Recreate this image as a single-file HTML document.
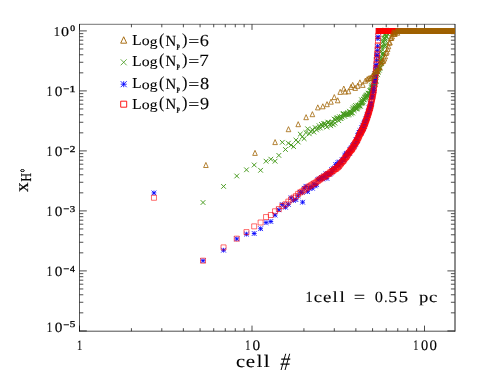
<!DOCTYPE html>
<html><head><meta charset="utf-8"><title>plot</title>
<style>html,body{margin:0;padding:0;background:#fff;}body{width:478px;height:382px;overflow:hidden;font-family:"Liberation Serif",serif;}</style>
</head><body>
<svg width="478" height="382" viewBox="0 0 478 382" style="display:block">
<rect width="478" height="382" fill="#fff"/>
<path d="M79.5 24.0V331.55" stroke="#000" stroke-width="0.65" fill="none"/>
<path d="M455.0 24.0V331.55" stroke="#000" stroke-width="0.9" fill="none"/>
<path d="M79.2 24.3H455.09999999999997" stroke="#000" stroke-width="0.55" fill="none"/>
<path d="M79.2 331.2H455.09999999999997" stroke="#000" stroke-width="0.7" fill="none"/>
<path d="M79.5 30.90h7.3M454.7 30.90h-7.3M79.5 90.90h7.3M454.7 90.90h-7.3M79.5 72.84h3.8M454.7 72.84h-3.8M79.5 62.27h3.8M454.7 62.27h-3.8M79.5 54.78h3.8M454.7 54.78h-3.8M79.5 48.96h3.8M454.7 48.96h-3.8M79.5 44.21h3.8M454.7 44.21h-3.8M79.5 40.19h3.8M454.7 40.19h-3.8M79.5 36.71h3.8M454.7 36.71h-3.8M79.5 33.65h3.8M454.7 33.65h-3.8M79.5 150.90h7.3M454.7 150.90h-7.3M79.5 132.84h3.8M454.7 132.84h-3.8M79.5 122.27h3.8M454.7 122.27h-3.8M79.5 114.78h3.8M454.7 114.78h-3.8M79.5 108.96h3.8M454.7 108.96h-3.8M79.5 104.21h3.8M454.7 104.21h-3.8M79.5 100.19h3.8M454.7 100.19h-3.8M79.5 96.71h3.8M454.7 96.71h-3.8M79.5 93.65h3.8M454.7 93.65h-3.8M79.5 210.90h7.3M454.7 210.90h-7.3M79.5 192.84h3.8M454.7 192.84h-3.8M79.5 182.27h3.8M454.7 182.27h-3.8M79.5 174.78h3.8M454.7 174.78h-3.8M79.5 168.96h3.8M454.7 168.96h-3.8M79.5 164.21h3.8M454.7 164.21h-3.8M79.5 160.19h3.8M454.7 160.19h-3.8M79.5 156.71h3.8M454.7 156.71h-3.8M79.5 153.65h3.8M454.7 153.65h-3.8M79.5 270.90h7.3M454.7 270.90h-7.3M79.5 252.84h3.8M454.7 252.84h-3.8M79.5 242.27h3.8M454.7 242.27h-3.8M79.5 234.78h3.8M454.7 234.78h-3.8M79.5 228.96h3.8M454.7 228.96h-3.8M79.5 224.21h3.8M454.7 224.21h-3.8M79.5 220.19h3.8M454.7 220.19h-3.8M79.5 216.71h3.8M454.7 216.71h-3.8M79.5 213.65h3.8M454.7 213.65h-3.8M79.5 330.90h7.3M454.7 330.90h-7.3M79.5 312.84h3.8M454.7 312.84h-3.8M79.5 302.27h3.8M454.7 302.27h-3.8M79.5 294.78h3.8M454.7 294.78h-3.8M79.5 288.96h3.8M454.7 288.96h-3.8M79.5 284.21h3.8M454.7 284.21h-3.8M79.5 280.19h3.8M454.7 280.19h-3.8M79.5 276.71h3.8M454.7 276.71h-3.8M79.5 273.65h3.8M454.7 273.65h-3.8M79.50 331.2v-5.6M79.50 24.3v5.6M131.43 331.2v-3.0M131.43 24.3v3.0M161.80 331.2v-3.0M161.80 24.3v3.0M183.36 331.2v-3.0M183.36 24.3v3.0M200.07 331.2v-3.0M200.07 24.3v3.0M213.73 331.2v-3.0M213.73 24.3v3.0M225.28 331.2v-3.0M225.28 24.3v3.0M235.28 331.2v-3.0M235.28 24.3v3.0M244.11 331.2v-3.0M244.11 24.3v3.0M252.00 331.2v-5.6M252.00 24.3v5.6M303.93 331.2v-3.0M303.93 24.3v3.0M334.30 331.2v-3.0M334.30 24.3v3.0M355.86 331.2v-3.0M355.86 24.3v3.0M372.57 331.2v-3.0M372.57 24.3v3.0M386.23 331.2v-3.0M386.23 24.3v3.0M397.78 331.2v-3.0M397.78 24.3v3.0M407.78 331.2v-3.0M407.78 24.3v3.0M416.61 331.2v-3.0M416.61 24.3v3.0M424.50 331.2v-5.6M424.50 24.3v5.6" fill="none" stroke="#000" stroke-width="0.7"/>
<path d="M200.67 200.15l4.70 4.70M200.67 204.85l4.70 -4.70M221.21 184.05l4.70 4.70M221.21 188.75l4.70 -4.70M234.40 173.65l4.70 4.70M234.40 178.35l4.70 -4.70M244.13 167.45l4.70 4.70M244.13 172.15l4.70 -4.70M251.85 162.65l4.70 4.70M251.85 167.35l4.70 -4.70M258.25 167.95l4.70 4.70M258.25 172.65l4.70 -4.70M263.71 158.85l4.70 4.70M263.71 163.55l4.70 -4.70M268.48 156.85l4.70 4.70M268.48 161.55l4.70 -4.70M272.70 158.85l4.70 4.70M272.70 163.55l4.70 -4.70M276.50 153.05l4.70 4.70M276.50 157.75l4.70 -4.70M279.95 139.95l4.70 4.70M279.95 144.65l4.70 -4.70M283.11 147.15l4.70 4.70M283.11 151.85l4.70 -4.70M286.02 140.85l4.70 4.70M286.02 145.55l4.70 -4.70M288.72 142.75l4.70 4.70M288.72 147.45l4.70 -4.70M291.24 144.25l4.70 4.70M291.24 148.95l4.70 -4.70M293.60 137.75l4.70 4.70M293.60 142.45l4.70 -4.70M295.82 139.65l4.70 4.70M295.82 144.35l4.70 -4.70M297.92 131.75l4.70 4.70M297.92 136.45l4.70 -4.70M299.91 134.55l4.70 4.70M299.91 139.25l4.70 -4.70M301.79 136.25l4.70 4.70M301.79 140.95l4.70 -4.70M303.59 130.25l4.70 4.70M303.59 134.95l4.70 -4.70M305.30 126.45l4.70 4.70M305.30 131.15l4.70 -4.70M306.94 131.45l4.70 4.70M306.94 136.15l4.70 -4.70M308.51 129.12l4.70 4.70M308.51 133.82l4.70 -4.70M310.01 127.24l4.70 4.70M310.01 131.94l4.70 -4.70M311.46 129.70l4.70 4.70M311.46 134.40l4.70 -4.70M312.86 125.28l4.70 4.70M312.86 129.98l4.70 -4.70M314.20 127.56l4.70 4.70M314.20 132.26l4.70 -4.70M315.50 125.87l4.70 4.70M315.50 130.57l4.70 -4.70M316.75 123.33l4.70 4.70M316.75 128.03l4.70 -4.70M317.97 125.66l4.70 4.70M317.97 130.36l4.70 -4.70M319.14 122.12l4.70 4.70M319.14 126.82l4.70 -4.70M320.28 124.14l4.70 4.70M320.28 128.84l4.70 -4.70M321.39 121.31l4.70 4.70M321.39 126.01l4.70 -4.70M322.46 120.96l4.70 4.70M322.46 125.66l4.70 -4.70M323.51 122.62l4.70 4.70M323.51 127.32l4.70 -4.70M324.52 124.74l4.70 4.70M324.52 129.44l4.70 -4.70M325.51 119.79l4.70 4.70M325.51 124.49l4.70 -4.70M326.48 119.99l4.70 4.70M326.48 124.69l4.70 -4.70M327.41 122.16l4.70 4.70M327.41 126.86l4.70 -4.70M328.33 123.43l4.70 4.70M328.33 128.13l4.70 -4.70M329.23 120.95l4.70 4.70M329.23 125.65l4.70 -4.70M330.10 119.55l4.70 4.70M330.10 124.25l4.70 -4.70M330.95 122.41l4.70 4.70M330.95 127.11l4.70 -4.70M331.79 116.74l4.70 4.70M331.79 121.44l4.70 -4.70M332.61 120.81l4.70 4.70M332.61 125.51l4.70 -4.70M333.40 117.16l4.70 4.70M333.40 121.86l4.70 -4.70M334.19 115.89l4.70 4.70M334.19 120.59l4.70 -4.70M334.95 115.30l4.70 4.70M334.95 120.00l4.70 -4.70M335.70 115.93l4.70 4.70M335.70 120.63l4.70 -4.70M336.44 118.35l4.70 4.70M336.44 123.05l4.70 -4.70M337.16 114.37l4.70 4.70M337.16 119.07l4.70 -4.70M337.87 116.20l4.70 4.70M337.87 120.90l4.70 -4.70M338.57 116.12l4.70 4.70M338.57 120.82l4.70 -4.70M339.25 114.23l4.70 4.70M339.25 118.93l4.70 -4.70M339.92 114.82l4.70 4.70M339.92 119.52l4.70 -4.70M340.58 111.72l4.70 4.70M340.58 116.42l4.70 -4.70M341.23 111.33l4.70 4.70M341.23 116.03l4.70 -4.70M341.86 111.78l4.70 4.70M341.86 116.48l4.70 -4.70M342.49 114.07l4.70 4.70M342.49 118.77l4.70 -4.70M343.10 112.30l4.70 4.70M343.10 117.00l4.70 -4.70M343.71 111.31l4.70 4.70M343.71 116.01l4.70 -4.70M344.30 112.49l4.70 4.70M344.30 117.19l4.70 -4.70M344.89 111.41l4.70 4.70M344.89 116.11l4.70 -4.70M345.47 110.21l4.70 4.70M345.47 114.91l4.70 -4.70M346.04 112.65l4.70 4.70M346.04 117.35l4.70 -4.70M346.60 111.79l4.70 4.70M346.60 116.49l4.70 -4.70M347.15 108.92l4.70 4.70M347.15 113.62l4.70 -4.70M347.69 110.46l4.70 4.70M347.69 115.16l4.70 -4.70M348.23 109.79l4.70 4.70M348.23 114.49l4.70 -4.70M348.76 111.33l4.70 4.70M348.76 116.03l4.70 -4.70M349.28 110.09l4.70 4.70M349.28 114.79l4.70 -4.70M349.79 107.21l4.70 4.70M349.79 111.91l4.70 -4.70M350.30 110.68l4.70 4.70M350.30 115.38l4.70 -4.70M350.80 105.46l4.70 4.70M350.80 110.16l4.70 -4.70M351.29 106.74l4.70 4.70M351.29 111.44l4.70 -4.70M351.78 108.25l4.70 4.70M351.78 112.95l4.70 -4.70M352.26 104.48l4.70 4.70M352.26 109.18l4.70 -4.70M352.74 105.99l4.70 4.70M352.74 110.69l4.70 -4.70M353.21 103.10l4.70 4.70M353.21 107.80l4.70 -4.70M353.67 106.25l4.70 4.70M353.67 110.95l4.70 -4.70M354.13 106.42l4.70 4.70M354.13 111.12l4.70 -4.70M354.58 104.99l4.70 4.70M354.58 109.69l4.70 -4.70M355.03 106.33l4.70 4.70M355.03 111.03l4.70 -4.70M355.47 102.83l4.70 4.70M355.47 107.53l4.70 -4.70M355.90 104.62l4.70 4.70M355.90 109.32l4.70 -4.70M356.34 103.68l4.70 4.70M356.34 108.38l4.70 -4.70M356.76 103.13l4.70 4.70M356.76 107.83l4.70 -4.70M357.18 101.96l4.70 4.70M357.18 106.66l4.70 -4.70M357.60 103.64l4.70 4.70M357.60 108.34l4.70 -4.70M358.01 103.77l4.70 4.70M358.01 108.47l4.70 -4.70M358.42 100.68l4.70 4.70M358.42 105.38l4.70 -4.70M358.82 101.29l4.70 4.70M358.82 105.99l4.70 -4.70M359.22 97.46l4.70 4.70M359.22 102.16l4.70 -4.70M359.62 100.61l4.70 4.70M359.62 105.31l4.70 -4.70M360.01 99.52l4.70 4.70M360.01 104.22l4.70 -4.70M360.39 100.19l4.70 4.70M360.39 104.89l4.70 -4.70M360.78 99.21l4.70 4.70M360.78 103.91l4.70 -4.70M361.16 97.07l4.70 4.70M361.16 101.77l4.70 -4.70M361.53 96.97l4.70 4.70M361.53 101.67l4.70 -4.70M361.90 97.46l4.70 4.70M361.90 102.16l4.70 -4.70M362.27 94.99l4.70 4.70M362.27 99.69l4.70 -4.70M362.63 95.98l4.70 4.70M362.63 100.68l4.70 -4.70M362.99 94.64l4.70 4.70M362.99 99.34l4.70 -4.70M363.35 94.08l4.70 4.70M363.35 98.78l4.70 -4.70M363.71 93.50l4.70 4.70M363.71 98.20l4.70 -4.70M364.06 95.37l4.70 4.70M364.06 100.07l4.70 -4.70M364.40 92.94l4.70 4.70M364.40 97.64l4.70 -4.70M364.75 92.89l4.70 4.70M364.75 97.59l4.70 -4.70M365.09 92.83l4.70 4.70M365.09 97.53l4.70 -4.70M365.43 93.84l4.70 4.70M365.43 98.54l4.70 -4.70M365.76 90.80l4.70 4.70M365.76 95.50l4.70 -4.70M366.09 91.47l4.70 4.70M366.09 96.17l4.70 -4.70M366.42 91.28l4.70 4.70M366.42 95.98l4.70 -4.70M366.75 91.85l4.70 4.70M366.75 96.55l4.70 -4.70M367.07 91.14l4.70 4.70M367.07 95.84l4.70 -4.70M367.39 90.79l4.70 4.70M367.39 95.49l4.70 -4.70M367.71 88.43l4.70 4.70M367.71 93.13l4.70 -4.70M368.02 88.38l4.70 4.70M368.02 93.08l4.70 -4.70M368.34 87.72l4.70 4.70M368.34 92.42l4.70 -4.70M368.65 88.92l4.70 4.70M368.65 93.62l4.70 -4.70M368.95 88.69l4.70 4.70M368.95 93.39l4.70 -4.70M369.26 85.63l4.70 4.70M369.26 90.33l4.70 -4.70M369.56 85.25l4.70 4.70M369.56 89.95l4.70 -4.70M369.41 84.63l4.70 4.70M369.41 89.33l4.70 -4.70M370.84 84.51l4.70 4.70M370.84 89.21l4.70 -4.70M369.27 82.88l4.70 4.70M369.27 87.58l4.70 -4.70M370.73 82.46l4.70 4.70M370.73 87.16l4.70 -4.70M372.89 82.02l4.70 4.70M372.89 86.72l4.70 -4.70M371.78 81.52l4.70 4.70M371.78 86.22l4.70 -4.70M372.58 80.39l4.70 4.70M372.58 85.09l4.70 -4.70M373.58 77.70l4.70 4.70M373.58 82.40l4.70 -4.70M373.78 79.14l4.70 4.70M373.78 83.84l4.70 -4.70M372.51 78.33l4.70 4.70M372.51 83.03l4.70 -4.70M371.87 76.18l4.70 4.70M371.87 80.88l4.70 -4.70M372.01 76.07l4.70 4.70M372.01 80.77l4.70 -4.70M372.75 73.40l4.70 4.70M372.75 78.10l4.70 -4.70M373.45 72.86l4.70 4.70M373.45 77.56l4.70 -4.70M372.63 71.75l4.70 4.70M372.63 76.45l4.70 -4.70M373.22 71.35l4.70 4.70M373.22 76.05l4.70 -4.70M373.24 71.32l4.70 4.70M373.24 76.02l4.70 -4.70M375.39 72.25l4.70 4.70M375.39 76.95l4.70 -4.70M374.49 69.23l4.70 4.70M374.49 73.93l4.70 -4.70M375.11 69.17l4.70 4.70M375.11 73.87l4.70 -4.70M376.92 67.76l4.70 4.70M376.92 72.46l4.70 -4.70M375.95 69.86l4.70 4.70M375.95 74.56l4.70 -4.70M374.99 67.55l4.70 4.70M374.99 72.25l4.70 -4.70M376.07 65.65l4.70 4.70M376.07 70.35l4.70 -4.70M377.88 65.50l4.70 4.70M377.88 70.20l4.70 -4.70M375.55 64.43l4.70 4.70M375.55 69.13l4.70 -4.70M377.41 65.47l4.70 4.70M377.41 70.17l4.70 -4.70M377.71 61.41l4.70 4.70M377.71 66.11l4.70 -4.70M377.90 59.56l4.70 4.70M377.90 64.26l4.70 -4.70M379.22 61.14l4.70 4.70M379.22 65.84l4.70 -4.70M377.53 58.79l4.70 4.70M377.53 63.49l4.70 -4.70M377.47 56.29l4.70 4.70M377.47 60.99l4.70 -4.70M378.88 56.16l4.70 4.70M378.88 60.86l4.70 -4.70M378.47 54.76l4.70 4.70M378.47 59.46l4.70 -4.70M380.25 51.56l4.70 4.70M380.25 56.26l4.70 -4.70M380.61 52.60l4.70 4.70M380.61 57.30l4.70 -4.70M380.74 50.63l4.70 4.70M380.74 55.33l4.70 -4.70M379.07 49.03l4.70 4.70M379.07 53.73l4.70 -4.70M379.72 47.06l4.70 4.70M379.72 51.76l4.70 -4.70M378.90 44.36l4.70 4.70M378.90 49.06l4.70 -4.70M379.86 44.02l4.70 4.70M379.86 48.72l4.70 -4.70M382.32 44.21l4.70 4.70M382.32 48.91l4.70 -4.70M382.48 42.31l4.70 4.70M382.48 47.01l4.70 -4.70M382.76 42.92l4.70 4.70M382.76 47.62l4.70 -4.70M380.64 39.82l4.70 4.70M380.64 44.52l4.70 -4.70M380.78 38.27l4.70 4.70M380.78 42.97l4.70 -4.70M382.37 37.11l4.70 4.70M382.37 41.81l4.70 -4.70M383.28 38.24l4.70 4.70M383.28 42.94l4.70 -4.70M382.89 35.81l4.70 4.70M382.89 40.51l4.70 -4.70M381.29 35.76l4.70 4.70M381.29 40.46l4.70 -4.70M384.15 34.25l4.70 4.70M384.15 38.95l4.70 -4.70M383.85 33.57l4.70 4.70M383.85 38.27l4.70 -4.70M382.23 31.94l4.70 4.70M382.23 36.64l4.70 -4.70M382.93 32.29l4.70 4.70M382.93 36.99l4.70 -4.70M385.19 31.68l4.70 4.70M385.19 36.38l4.70 -4.70M383.57 29.74l4.70 4.70M383.57 34.44l4.70 -4.70M384.81 30.87l4.70 4.70M384.81 35.57l4.70 -4.70M383.11 27.75l4.70 4.70M383.11 32.45l4.70 -4.70M384.10 28.65l4.70 4.70M384.10 33.35l4.70 -4.70M384.31 28.65l4.70 4.70M384.31 33.35l4.70 -4.70M384.51 28.65l4.70 4.70M384.51 33.35l4.70 -4.70M384.71 28.65l4.70 4.70M384.71 33.35l4.70 -4.70M384.91 28.65l4.70 4.70M384.91 33.35l4.70 -4.70M385.11 28.65l4.70 4.70M385.11 33.35l4.70 -4.70M385.31 28.65l4.70 4.70M385.31 33.35l4.70 -4.70M385.51 28.65l4.70 4.70M385.51 33.35l4.70 -4.70M385.70 28.65l4.70 4.70M385.70 33.35l4.70 -4.70M385.90 28.65l4.70 4.70M385.90 33.35l4.70 -4.70M386.09 28.65l4.70 4.70M386.09 33.35l4.70 -4.70M386.29 28.65l4.70 4.70M386.29 33.35l4.70 -4.70M386.48 28.65l4.70 4.70M386.48 33.35l4.70 -4.70M386.67 28.65l4.70 4.70M386.67 33.35l4.70 -4.70M386.86 28.65l4.70 4.70M386.86 33.35l4.70 -4.70M387.05 28.65l4.70 4.70M387.05 33.35l4.70 -4.70M387.24 28.65l4.70 4.70M387.24 33.35l4.70 -4.70M387.43 28.65l4.70 4.70M387.43 33.35l4.70 -4.70M387.61 28.65l4.70 4.70M387.61 33.35l4.70 -4.70M387.80 28.65l4.70 4.70M387.80 33.35l4.70 -4.70M387.98 28.65l4.70 4.70M387.98 33.35l4.70 -4.70M388.17 28.65l4.70 4.70M388.17 33.35l4.70 -4.70M388.35 28.65l4.70 4.70M388.35 33.35l4.70 -4.70M388.53 28.65l4.70 4.70M388.53 33.35l4.70 -4.70M388.71 28.65l4.70 4.70M388.71 33.35l4.70 -4.70M388.89 28.65l4.70 4.70M388.89 33.35l4.70 -4.70M389.07 28.65l4.70 4.70M389.07 33.35l4.70 -4.70M389.25 28.65l4.70 4.70M389.25 33.35l4.70 -4.70M389.43 28.65l4.70 4.70M389.43 33.35l4.70 -4.70M389.60 28.65l4.70 4.70M389.60 33.35l4.70 -4.70M389.78 28.65l4.70 4.70M389.78 33.35l4.70 -4.70M389.96 28.65l4.70 4.70M389.96 33.35l4.70 -4.70M390.13 28.65l4.70 4.70M390.13 33.35l4.70 -4.70M390.30 28.65l4.70 4.70M390.30 33.35l4.70 -4.70M390.48 28.65l4.70 4.70M390.48 33.35l4.70 -4.70M390.65 28.65l4.70 4.70M390.65 33.35l4.70 -4.70M390.82 28.65l4.70 4.70M390.82 33.35l4.70 -4.70M390.99 28.65l4.70 4.70M390.99 33.35l4.70 -4.70M391.16 28.65l4.70 4.70M391.16 33.35l4.70 -4.70M391.33 28.65l4.70 4.70M391.33 33.35l4.70 -4.70M391.50 28.65l4.70 4.70M391.50 33.35l4.70 -4.70M391.66 28.65l4.70 4.70M391.66 33.35l4.70 -4.70M391.83 28.65l4.70 4.70M391.83 33.35l4.70 -4.70M392.00 28.65l4.70 4.70M392.00 33.35l4.70 -4.70M392.16 28.65l4.70 4.70M392.16 33.35l4.70 -4.70M392.33 28.65l4.70 4.70M392.33 33.35l4.70 -4.70M392.49 28.65l4.70 4.70M392.49 33.35l4.70 -4.70M392.65 28.65l4.70 4.70M392.65 33.35l4.70 -4.70M392.81 28.65l4.70 4.70M392.81 33.35l4.70 -4.70M392.98 28.65l4.70 4.70M392.98 33.35l4.70 -4.70M393.14 28.65l4.70 4.70M393.14 33.35l4.70 -4.70M393.30 28.65l4.70 4.70M393.30 33.35l4.70 -4.70M393.46 28.65l4.70 4.70M393.46 33.35l4.70 -4.70M393.61 28.65l4.70 4.70M393.61 33.35l4.70 -4.70M393.77 28.65l4.70 4.70M393.77 33.35l4.70 -4.70M393.93 28.65l4.70 4.70M393.93 33.35l4.70 -4.70M394.09 28.65l4.70 4.70M394.09 33.35l4.70 -4.70M394.24 28.65l4.70 4.70M394.24 33.35l4.70 -4.70M394.40 28.65l4.70 4.70M394.40 33.35l4.70 -4.70M394.55 28.65l4.70 4.70M394.55 33.35l4.70 -4.70M394.71 28.65l4.70 4.70M394.71 33.35l4.70 -4.70M394.86 28.65l4.70 4.70M394.86 33.35l4.70 -4.70M395.01 28.65l4.70 4.70M395.01 33.35l4.70 -4.70M395.17 28.65l4.70 4.70M395.17 33.35l4.70 -4.70M395.32 28.65l4.70 4.70M395.32 33.35l4.70 -4.70M395.47 28.65l4.70 4.70M395.47 33.35l4.70 -4.70M395.62 28.65l4.70 4.70M395.62 33.35l4.70 -4.70M395.77 28.65l4.70 4.70M395.77 33.35l4.70 -4.70M395.92 28.65l4.70 4.70M395.92 33.35l4.70 -4.70M396.07 28.65l4.70 4.70M396.07 33.35l4.70 -4.70M396.22 28.65l4.70 4.70M396.22 33.35l4.70 -4.70M396.36 28.65l4.70 4.70M396.36 33.35l4.70 -4.70M396.51 28.65l4.70 4.70M396.51 33.35l4.70 -4.70M396.66 28.65l4.70 4.70M396.66 33.35l4.70 -4.70M396.80 28.65l4.70 4.70M396.80 33.35l4.70 -4.70M396.95 28.65l4.70 4.70M396.95 33.35l4.70 -4.70M397.09 28.65l4.70 4.70M397.09 33.35l4.70 -4.70M397.24 28.65l4.70 4.70M397.24 33.35l4.70 -4.70M397.38 28.65l4.70 4.70M397.38 33.35l4.70 -4.70M397.52 28.65l4.70 4.70M397.52 33.35l4.70 -4.70M397.67 28.65l4.70 4.70M397.67 33.35l4.70 -4.70M397.81 28.65l4.70 4.70M397.81 33.35l4.70 -4.70M397.95 28.65l4.70 4.70M397.95 33.35l4.70 -4.70M398.09 28.65l4.70 4.70M398.09 33.35l4.70 -4.70M398.23 28.65l4.70 4.70M398.23 33.35l4.70 -4.70M398.37 28.65l4.70 4.70M398.37 33.35l4.70 -4.70M398.51 28.65l4.70 4.70M398.51 33.35l4.70 -4.70M398.65 28.65l4.70 4.70M398.65 33.35l4.70 -4.70M398.79 28.65l4.70 4.70M398.79 33.35l4.70 -4.70M398.93 28.65l4.70 4.70M398.93 33.35l4.70 -4.70M399.06 28.65l4.70 4.70M399.06 33.35l4.70 -4.70M399.20 28.65l4.70 4.70M399.20 33.35l4.70 -4.70M399.34 28.65l4.70 4.70M399.34 33.35l4.70 -4.70M399.47 28.65l4.70 4.70M399.47 33.35l4.70 -4.70M399.61 28.65l4.70 4.70M399.61 33.35l4.70 -4.70M399.74 28.65l4.70 4.70M399.74 33.35l4.70 -4.70M399.88 28.65l4.70 4.70M399.88 33.35l4.70 -4.70M400.01 28.65l4.70 4.70M400.01 33.35l4.70 -4.70M400.14 28.65l4.70 4.70M400.14 33.35l4.70 -4.70M400.28 28.65l4.70 4.70M400.28 33.35l4.70 -4.70M400.41 28.65l4.70 4.70M400.41 33.35l4.70 -4.70M400.54 28.65l4.70 4.70M400.54 33.35l4.70 -4.70M400.67 28.65l4.70 4.70M400.67 33.35l4.70 -4.70M400.80 28.65l4.70 4.70M400.80 33.35l4.70 -4.70M400.93 28.65l4.70 4.70M400.93 33.35l4.70 -4.70M401.06 28.65l4.70 4.70M401.06 33.35l4.70 -4.70M401.19 28.65l4.70 4.70M401.19 33.35l4.70 -4.70M401.32 28.65l4.70 4.70M401.32 33.35l4.70 -4.70M401.45 28.65l4.70 4.70M401.45 33.35l4.70 -4.70M401.58 28.65l4.70 4.70M401.58 33.35l4.70 -4.70M401.71 28.65l4.70 4.70M401.71 33.35l4.70 -4.70M401.83 28.65l4.70 4.70M401.83 33.35l4.70 -4.70M401.96 28.65l4.70 4.70M401.96 33.35l4.70 -4.70M402.09 28.65l4.70 4.70M402.09 33.35l4.70 -4.70M402.21 28.65l4.70 4.70M402.21 33.35l4.70 -4.70M402.34 28.65l4.70 4.70M402.34 33.35l4.70 -4.70M402.47 28.65l4.70 4.70M402.47 33.35l4.70 -4.70M402.59 28.65l4.70 4.70M402.59 33.35l4.70 -4.70M402.71 28.65l4.70 4.70M402.71 33.35l4.70 -4.70M402.84 28.65l4.70 4.70M402.84 33.35l4.70 -4.70M402.96 28.65l4.70 4.70M402.96 33.35l4.70 -4.70M403.09 28.65l4.70 4.70M403.09 33.35l4.70 -4.70M403.21 28.65l4.70 4.70M403.21 33.35l4.70 -4.70M403.33 28.65l4.70 4.70M403.33 33.35l4.70 -4.70M403.45 28.65l4.70 4.70M403.45 33.35l4.70 -4.70M403.58 28.65l4.70 4.70M403.58 33.35l4.70 -4.70M403.70 28.65l4.70 4.70M403.70 33.35l4.70 -4.70M403.82 28.65l4.70 4.70M403.82 33.35l4.70 -4.70M403.94 28.65l4.70 4.70M403.94 33.35l4.70 -4.70M404.06 28.65l4.70 4.70M404.06 33.35l4.70 -4.70M404.18 28.65l4.70 4.70M404.18 33.35l4.70 -4.70M404.30 28.65l4.70 4.70M404.30 33.35l4.70 -4.70M404.42 28.65l4.70 4.70M404.42 33.35l4.70 -4.70M404.53 28.65l4.70 4.70M404.53 33.35l4.70 -4.70M404.65 28.65l4.70 4.70M404.65 33.35l4.70 -4.70M404.77 28.65l4.70 4.70M404.77 33.35l4.70 -4.70M404.89 28.65l4.70 4.70M404.89 33.35l4.70 -4.70M405.01 28.65l4.70 4.70M405.01 33.35l4.70 -4.70M405.12 28.65l4.70 4.70M405.12 33.35l4.70 -4.70M405.24 28.65l4.70 4.70M405.24 33.35l4.70 -4.70M405.35 28.65l4.70 4.70M405.35 33.35l4.70 -4.70M405.47 28.65l4.70 4.70M405.47 33.35l4.70 -4.70M405.59 28.65l4.70 4.70M405.59 33.35l4.70 -4.70M405.70 28.65l4.70 4.70M405.70 33.35l4.70 -4.70M405.81 28.65l4.70 4.70M405.81 33.35l4.70 -4.70M405.93 28.65l4.70 4.70M405.93 33.35l4.70 -4.70M406.04 28.65l4.70 4.70M406.04 33.35l4.70 -4.70M406.16 28.65l4.70 4.70M406.16 33.35l4.70 -4.70M406.27 28.65l4.70 4.70M406.27 33.35l4.70 -4.70M406.38 28.65l4.70 4.70M406.38 33.35l4.70 -4.70M406.50 28.65l4.70 4.70M406.50 33.35l4.70 -4.70M406.61 28.65l4.70 4.70M406.61 33.35l4.70 -4.70M406.72 28.65l4.70 4.70M406.72 33.35l4.70 -4.70M406.83 28.65l4.70 4.70M406.83 33.35l4.70 -4.70M406.94 28.65l4.70 4.70M406.94 33.35l4.70 -4.70M407.05 28.65l4.70 4.70M407.05 33.35l4.70 -4.70M407.16 28.65l4.70 4.70M407.16 33.35l4.70 -4.70M407.27 28.65l4.70 4.70M407.27 33.35l4.70 -4.70M407.38 28.65l4.70 4.70M407.38 33.35l4.70 -4.70M407.49 28.65l4.70 4.70M407.49 33.35l4.70 -4.70M407.60 28.65l4.70 4.70M407.60 33.35l4.70 -4.70M407.71 28.65l4.70 4.70M407.71 33.35l4.70 -4.70M407.82 28.65l4.70 4.70M407.82 33.35l4.70 -4.70M407.93 28.65l4.70 4.70M407.93 33.35l4.70 -4.70M408.04 28.65l4.70 4.70M408.04 33.35l4.70 -4.70M408.14 28.65l4.70 4.70M408.14 33.35l4.70 -4.70M408.25 28.65l4.70 4.70M408.25 33.35l4.70 -4.70M408.36 28.65l4.70 4.70M408.36 33.35l4.70 -4.70M408.46 28.65l4.70 4.70M408.46 33.35l4.70 -4.70M408.57 28.65l4.70 4.70M408.57 33.35l4.70 -4.70M408.68 28.65l4.70 4.70M408.68 33.35l4.70 -4.70M408.78 28.65l4.70 4.70M408.78 33.35l4.70 -4.70M408.89 28.65l4.70 4.70M408.89 33.35l4.70 -4.70M408.99 28.65l4.70 4.70M408.99 33.35l4.70 -4.70M409.10 28.65l4.70 4.70M409.10 33.35l4.70 -4.70M409.20 28.65l4.70 4.70M409.20 33.35l4.70 -4.70M409.31 28.65l4.70 4.70M409.31 33.35l4.70 -4.70M409.41 28.65l4.70 4.70M409.41 33.35l4.70 -4.70M409.52 28.65l4.70 4.70M409.52 33.35l4.70 -4.70M409.62 28.65l4.70 4.70M409.62 33.35l4.70 -4.70M409.72 28.65l4.70 4.70M409.72 33.35l4.70 -4.70M409.83 28.65l4.70 4.70M409.83 33.35l4.70 -4.70M409.93 28.65l4.70 4.70M409.93 33.35l4.70 -4.70M410.03 28.65l4.70 4.70M410.03 33.35l4.70 -4.70M410.13 28.65l4.70 4.70M410.13 33.35l4.70 -4.70M410.23 28.65l4.70 4.70M410.23 33.35l4.70 -4.70M410.34 28.65l4.70 4.70M410.34 33.35l4.70 -4.70M410.44 28.65l4.70 4.70M410.44 33.35l4.70 -4.70M410.54 28.65l4.70 4.70M410.54 33.35l4.70 -4.70M410.64 28.65l4.70 4.70M410.64 33.35l4.70 -4.70M410.74 28.65l4.70 4.70M410.74 33.35l4.70 -4.70M410.84 28.65l4.70 4.70M410.84 33.35l4.70 -4.70M410.94 28.65l4.70 4.70M410.94 33.35l4.70 -4.70M411.04 28.65l4.70 4.70M411.04 33.35l4.70 -4.70M411.14 28.65l4.70 4.70M411.14 33.35l4.70 -4.70M411.24 28.65l4.70 4.70M411.24 33.35l4.70 -4.70M411.34 28.65l4.70 4.70M411.34 33.35l4.70 -4.70M411.44 28.65l4.70 4.70M411.44 33.35l4.70 -4.70M411.53 28.65l4.70 4.70M411.53 33.35l4.70 -4.70M411.63 28.65l4.70 4.70M411.63 33.35l4.70 -4.70" fill="none" stroke="#44991a" stroke-width="0.95"/>
<path d="M151.61 190.55l4.70 4.70M151.61 195.25l4.70 -4.70M151.61 192.90h4.70M153.96 190.55v4.70M200.67 258.35l4.70 4.70M200.67 263.05l4.70 -4.70M200.67 260.70h4.70M203.02 258.35v4.70M221.21 247.85l4.70 4.70M221.21 252.55l4.70 -4.70M221.21 250.20h4.70M223.56 247.85v4.70M234.40 236.55l4.70 4.70M234.40 241.25l4.70 -4.70M234.40 238.90h4.70M236.75 236.55v4.70M244.13 231.75l4.70 4.70M244.13 236.45l4.70 -4.70M244.13 234.10h4.70M246.48 231.75v4.70M251.85 231.15l4.70 4.70M251.85 235.85l4.70 -4.70M251.85 233.50h4.70M254.20 231.15v4.70M258.25 226.35l4.70 4.70M258.25 231.05l4.70 -4.70M258.25 228.70h4.70M260.60 226.35v4.70M263.71 220.25l4.70 4.70M263.71 224.95l4.70 -4.70M263.71 222.60h4.70M266.06 220.25v4.70M268.48 219.15l4.70 4.70M268.48 223.85l4.70 -4.70M268.48 221.50h4.70M270.83 219.15v4.70M272.70 212.75l4.70 4.70M272.70 217.45l4.70 -4.70M272.70 215.10h4.70M275.05 212.75v4.70M276.50 207.45l4.70 4.70M276.50 212.15l4.70 -4.70M276.50 209.80h4.70M278.85 207.45v4.70M279.95 202.24l4.70 4.70M279.95 206.94l4.70 -4.70M279.95 204.59h4.70M282.30 202.24v4.70M283.11 204.92l4.70 4.70M283.11 209.62l4.70 -4.70M283.11 207.27h4.70M285.46 204.92v4.70M286.02 201.99l4.70 4.70M286.02 206.69l4.70 -4.70M286.02 204.34h4.70M288.37 201.99v4.70M288.72 195.41l4.70 4.70M288.72 200.11l4.70 -4.70M288.72 197.76h4.70M291.07 195.41v4.70M291.24 198.08l4.70 4.70M291.24 202.78l4.70 -4.70M291.24 200.43h4.70M293.59 198.08v4.70M293.60 197.29l4.70 4.70M293.60 201.99l4.70 -4.70M293.60 199.64h4.70M295.95 197.29v4.70M295.82 193.44l4.70 4.70M295.82 198.14l4.70 -4.70M295.82 195.79h4.70M298.17 193.44v4.70M297.92 189.96l4.70 4.70M297.92 194.66l4.70 -4.70M297.92 192.31h4.70M300.27 189.96v4.70M299.91 189.99l4.70 4.70M299.91 194.69l4.70 -4.70M299.91 192.34h4.70M302.26 189.99v4.70M301.79 185.90l4.70 4.70M301.79 190.60l4.70 -4.70M301.79 188.25h4.70M304.14 185.90v4.70M303.59 183.91l4.70 4.70M303.59 188.61l4.70 -4.70M303.59 186.26h4.70M305.94 183.91v4.70M305.30 189.28l4.70 4.70M305.30 193.98l4.70 -4.70M305.30 191.63h4.70M307.65 189.28v4.70M306.94 186.00l4.70 4.70M306.94 190.70l4.70 -4.70M306.94 188.35h4.70M309.29 186.00v4.70M308.51 184.12l4.70 4.70M308.51 188.82l4.70 -4.70M308.51 186.47h4.70M310.86 184.12v4.70M310.01 185.89l4.70 4.70M310.01 190.59l4.70 -4.70M310.01 188.24h4.70M312.36 185.89v4.70M311.46 181.52l4.70 4.70M311.46 186.22l4.70 -4.70M311.46 183.87h4.70M313.81 181.52v4.70M312.86 183.57l4.70 4.70M312.86 188.27l4.70 -4.70M312.86 185.92h4.70M315.21 183.57v4.70M314.20 182.37l4.70 4.70M314.20 187.07l4.70 -4.70M314.20 184.72h4.70M316.55 182.37v4.70M315.50 177.32l4.70 4.70M315.50 182.02l4.70 -4.70M315.50 179.67h4.70M317.85 177.32v4.70M316.75 176.76l4.70 4.70M316.75 181.46l4.70 -4.70M316.75 179.11h4.70M319.10 176.76v4.70M317.97 176.23l4.70 4.70M317.97 180.93l4.70 -4.70M317.97 178.58h4.70M320.32 176.23v4.70M319.14 175.09l4.70 4.70M319.14 179.79l4.70 -4.70M319.14 177.44h4.70M321.49 175.09v4.70M320.28 176.68l4.70 4.70M320.28 181.38l4.70 -4.70M320.28 179.03h4.70M322.63 176.68v4.70M321.39 173.72l4.70 4.70M321.39 178.42l4.70 -4.70M321.39 176.07h4.70M323.74 173.72v4.70M322.46 174.09l4.70 4.70M322.46 178.79l4.70 -4.70M322.46 176.44h4.70M324.81 174.09v4.70M323.51 171.44l4.70 4.70M323.51 176.14l4.70 -4.70M323.51 173.79h4.70M325.86 171.44v4.70M324.52 176.01l4.70 4.70M324.52 180.71l4.70 -4.70M324.52 178.36h4.70M326.87 176.01v4.70M325.51 171.52l4.70 4.70M325.51 176.22l4.70 -4.70M325.51 173.87h4.70M327.86 171.52v4.70M326.48 171.54l4.70 4.70M326.48 176.24l4.70 -4.70M326.48 173.89h4.70M328.83 171.54v4.70M327.41 171.71l4.70 4.70M327.41 176.41l4.70 -4.70M327.41 174.06h4.70M329.76 171.71v4.70M328.33 170.66l4.70 4.70M328.33 175.36l4.70 -4.70M328.33 173.01h4.70M330.68 170.66v4.70M329.23 167.36l4.70 4.70M329.23 172.06l4.70 -4.70M329.23 169.71h4.70M331.58 167.36v4.70M330.10 169.47l4.70 4.70M330.10 174.17l4.70 -4.70M330.10 171.82h4.70M332.45 169.47v4.70M330.95 166.57l4.70 4.70M330.95 171.27l4.70 -4.70M330.95 168.92h4.70M333.30 166.57v4.70M331.79 166.13l4.70 4.70M331.79 170.83l4.70 -4.70M331.79 168.48h4.70M334.14 166.13v4.70M332.61 165.50l4.70 4.70M332.61 170.20l4.70 -4.70M332.61 167.85h4.70M334.96 165.50v4.70M333.40 162.15l4.70 4.70M333.40 166.85l4.70 -4.70M333.40 164.50h4.70M335.75 162.15v4.70M334.19 163.91l4.70 4.70M334.19 168.61l4.70 -4.70M334.19 166.26h4.70M336.54 163.91v4.70M334.95 161.94l4.70 4.70M334.95 166.64l4.70 -4.70M334.95 164.29h4.70M337.30 161.94v4.70M335.70 160.29l4.70 4.70M335.70 164.99l4.70 -4.70M335.70 162.64h4.70M338.05 160.29v4.70M336.44 163.86l4.70 4.70M336.44 168.56l4.70 -4.70M336.44 166.21h4.70M338.79 163.86v4.70M337.16 159.63l4.70 4.70M337.16 164.33l4.70 -4.70M337.16 161.98h4.70M339.51 159.63v4.70M337.87 160.52l4.70 4.70M337.87 165.22l4.70 -4.70M337.87 162.87h4.70M340.22 160.52v4.70M338.57 161.15l4.70 4.70M338.57 165.85l4.70 -4.70M338.57 163.50h4.70M340.92 161.15v4.70M339.25 159.49l4.70 4.70M339.25 164.19l4.70 -4.70M339.25 161.84h4.70M341.60 159.49v4.70M339.92 157.49l4.70 4.70M339.92 162.19l4.70 -4.70M339.92 159.84h4.70M342.27 157.49v4.70M340.58 157.70l4.70 4.70M340.58 162.40l4.70 -4.70M340.58 160.05h4.70M342.93 157.70v4.70M341.23 157.01l4.70 4.70M341.23 161.71l4.70 -4.70M341.23 159.36h4.70M343.58 157.01v4.70M341.86 157.38l4.70 4.70M341.86 162.08l4.70 -4.70M341.86 159.73h4.70M344.21 157.38v4.70M342.49 152.78l4.70 4.70M342.49 157.48l4.70 -4.70M342.49 155.13h4.70M344.84 152.78v4.70M343.10 154.43l4.70 4.70M343.10 159.13l4.70 -4.70M343.10 156.78h4.70M345.45 154.43v4.70M343.71 151.87l4.70 4.70M343.71 156.57l4.70 -4.70M343.71 154.22h4.70M346.06 151.87v4.70M344.30 151.20l4.70 4.70M344.30 155.90l4.70 -4.70M344.30 153.55h4.70M346.65 151.20v4.70M344.89 153.10l4.70 4.70M344.89 157.80l4.70 -4.70M344.89 155.45h4.70M347.24 153.10v4.70M345.47 150.83l4.70 4.70M345.47 155.53l4.70 -4.70M345.47 153.18h4.70M347.82 150.83v4.70M346.04 150.33l4.70 4.70M346.04 155.03l4.70 -4.70M346.04 152.68h4.70M348.39 150.33v4.70M346.60 150.64l4.70 4.70M346.60 155.34l4.70 -4.70M346.60 152.99h4.70M348.95 150.64v4.70M347.15 150.70l4.70 4.70M347.15 155.40l4.70 -4.70M347.15 153.05h4.70M349.50 150.70v4.70M347.69 147.36l4.70 4.70M347.69 152.06l4.70 -4.70M347.69 149.71h4.70M350.04 147.36v4.70M348.23 147.53l4.70 4.70M348.23 152.23l4.70 -4.70M348.23 149.88h4.70M350.58 147.53v4.70M348.76 146.20l4.70 4.70M348.76 150.90l4.70 -4.70M348.76 148.55h4.70M351.11 146.20v4.70M349.28 145.51l4.70 4.70M349.28 150.21l4.70 -4.70M349.28 147.86h4.70M351.63 145.51v4.70M349.79 145.78l4.70 4.70M349.79 150.48l4.70 -4.70M349.79 148.13h4.70M352.14 145.78v4.70M350.30 143.75l4.70 4.70M350.30 148.45l4.70 -4.70M350.30 146.10h4.70M352.65 143.75v4.70M350.80 143.39l4.70 4.70M350.80 148.09l4.70 -4.70M350.80 145.74h4.70M353.15 143.39v4.70M351.29 142.25l4.70 4.70M351.29 146.95l4.70 -4.70M351.29 144.60h4.70M353.64 142.25v4.70M351.78 143.97l4.70 4.70M351.78 148.67l4.70 -4.70M351.78 146.32h4.70M354.13 143.97v4.70M352.26 141.83l4.70 4.70M352.26 146.53l4.70 -4.70M352.26 144.18h4.70M354.61 141.83v4.70M352.74 142.00l4.70 4.70M352.74 146.70l4.70 -4.70M352.74 144.35h4.70M355.09 142.00v4.70M353.21 141.57l4.70 4.70M353.21 146.27l4.70 -4.70M353.21 143.92h4.70M355.56 141.57v4.70M353.67 137.03l4.70 4.70M353.67 141.73l4.70 -4.70M353.67 139.38h4.70M356.02 137.03v4.70M354.13 137.90l4.70 4.70M354.13 142.60l4.70 -4.70M354.13 140.25h4.70M356.48 137.90v4.70M354.58 139.25l4.70 4.70M354.58 143.95l4.70 -4.70M354.58 141.60h4.70M356.93 139.25v4.70M355.03 137.93l4.70 4.70M355.03 142.63l4.70 -4.70M355.03 140.28h4.70M357.38 137.93v4.70M355.47 133.31l4.70 4.70M355.47 138.01l4.70 -4.70M355.47 135.66h4.70M357.82 133.31v4.70M355.90 132.36l4.70 4.70M355.90 137.06l4.70 -4.70M355.90 134.71h4.70M358.25 132.36v4.70M356.34 133.16l4.70 4.70M356.34 137.86l4.70 -4.70M356.34 135.51h4.70M358.69 133.16v4.70M356.76 130.18l4.70 4.70M356.76 134.88l4.70 -4.70M356.76 132.53h4.70M359.11 130.18v4.70M357.18 130.17l4.70 4.70M357.18 134.87l4.70 -4.70M357.18 132.52h4.70M359.53 130.17v4.70M357.60 128.33l4.70 4.70M357.60 133.03l4.70 -4.70M357.60 130.68h4.70M359.95 128.33v4.70M358.01 130.70l4.70 4.70M358.01 135.40l4.70 -4.70M358.01 133.05h4.70M360.36 130.70v4.70M358.42 130.48l4.70 4.70M358.42 135.18l4.70 -4.70M358.42 132.83h4.70M360.77 130.48v4.70M358.82 130.25l4.70 4.70M358.82 134.95l4.70 -4.70M358.82 132.60h4.70M361.17 130.25v4.70M359.22 125.33l4.70 4.70M359.22 130.03l4.70 -4.70M359.22 127.68h4.70M361.57 125.33v4.70M359.62 127.60l4.70 4.70M359.62 132.30l4.70 -4.70M359.62 129.95h4.70M361.97 127.60v4.70M360.01 126.47l4.70 4.70M360.01 131.17l4.70 -4.70M360.01 128.82h4.70M362.36 126.47v4.70M360.39 122.82l4.70 4.70M360.39 127.52l4.70 -4.70M360.39 125.17h4.70M362.74 122.82v4.70M360.78 126.08l4.70 4.70M360.78 130.78l4.70 -4.70M360.78 128.43h4.70M363.13 126.08v4.70M361.16 125.75l4.70 4.70M361.16 130.45l4.70 -4.70M361.16 128.10h4.70M363.51 125.75v4.70M361.53 120.85l4.70 4.70M361.53 125.55l4.70 -4.70M361.53 123.20h4.70M363.88 120.85v4.70M361.90 124.11l4.70 4.70M361.90 128.81l4.70 -4.70M361.90 126.46h4.70M364.25 124.11v4.70M362.27 120.20l4.70 4.70M362.27 124.90l4.70 -4.70M362.27 122.55h4.70M364.62 120.20v4.70M362.63 119.65l4.70 4.70M362.63 124.35l4.70 -4.70M362.63 122.00h4.70M364.98 119.65v4.70M362.99 121.38l4.70 4.70M362.99 126.08l4.70 -4.70M362.99 123.73h4.70M365.34 121.38v4.70M363.35 119.49l4.70 4.70M363.35 124.19l4.70 -4.70M363.35 121.84h4.70M365.70 119.49v4.70M363.51 116.74l4.70 4.70M363.51 121.44l4.70 -4.70M363.51 119.09h4.70M365.86 116.74v4.70M363.86 116.82l4.70 4.70M363.86 121.52l4.70 -4.70M363.86 119.17h4.70M366.21 116.82v4.70M364.20 116.17l4.70 4.70M364.20 120.87l4.70 -4.70M364.20 118.52h4.70M366.55 116.17v4.70M364.55 114.47l4.70 4.70M364.55 119.17l4.70 -4.70M364.55 116.82h4.70M366.90 114.47v4.70M364.89 112.93l4.70 4.70M364.89 117.63l4.70 -4.70M364.89 115.28h4.70M367.24 112.93v4.70M365.23 112.45l4.70 4.70M365.23 117.15l4.70 -4.70M365.23 114.80h4.70M367.58 112.45v4.70M365.56 113.10l4.70 4.70M365.56 117.80l4.70 -4.70M365.56 115.45h4.70M367.91 113.10v4.70M365.89 109.12l4.70 4.70M365.89 113.82l4.70 -4.70M365.89 111.47h4.70M368.24 109.12v4.70M366.22 110.10l4.70 4.70M366.22 114.80l4.70 -4.70M366.22 112.45h4.70M368.57 110.10v4.70M366.55 108.50l4.70 4.70M366.55 113.20l4.70 -4.70M366.55 110.85h4.70M368.90 108.50v4.70M366.87 105.67l4.70 4.70M366.87 110.37l4.70 -4.70M366.87 108.02h4.70M369.22 105.67v4.70M367.19 105.80l4.70 4.70M367.19 110.50l4.70 -4.70M367.19 108.15h4.70M369.54 105.80v4.70M367.51 105.85l4.70 4.70M367.51 110.55l4.70 -4.70M367.51 108.20h4.70M369.86 105.85v4.70M367.82 104.30l4.70 4.70M367.82 109.00l4.70 -4.70M367.82 106.65h4.70M370.17 104.30v4.70M368.14 101.41l4.70 4.70M368.14 106.11l4.70 -4.70M368.14 103.76h4.70M370.49 101.41v4.70M368.45 104.00l4.70 4.70M368.45 108.70l4.70 -4.70M368.45 106.35h4.70M370.80 104.00v4.70M368.75 101.64l4.70 4.70M368.75 106.34l4.70 -4.70M368.75 103.99h4.70M371.10 101.64v4.70M369.06 100.80l4.70 4.70M369.06 105.50l4.70 -4.70M369.06 103.15h4.70M371.41 100.80v4.70M369.36 95.78l4.70 4.70M369.36 100.48l4.70 -4.70M369.36 98.13h4.70M371.71 95.78v4.70M369.66 94.88l4.70 4.70M369.66 99.58l4.70 -4.70M369.66 97.23h4.70M372.01 94.88v4.70M369.96 92.45l4.70 4.70M369.96 97.15l4.70 -4.70M369.96 94.80h4.70M372.31 92.45v4.70M370.25 93.89l4.70 4.70M370.25 98.59l4.70 -4.70M370.25 96.24h4.70M372.60 93.89v4.70M370.55 90.34l4.70 4.70M370.55 95.04l4.70 -4.70M370.55 92.69h4.70M372.90 90.34v4.70M370.84 88.29l4.70 4.70M370.84 92.99l4.70 -4.70M370.84 90.64h4.70M373.19 88.29v4.70M371.13 87.97l4.70 4.70M371.13 92.67l4.70 -4.70M371.13 90.32h4.70M373.48 87.97v4.70M371.41 87.82l4.70 4.70M371.41 92.52l4.70 -4.70M371.41 90.17h4.70M373.76 87.82v4.70M371.70 84.86l4.70 4.70M371.70 89.56l4.70 -4.70M371.70 87.21h4.70M374.05 84.86v4.70M371.98 80.06l4.70 4.70M371.98 84.76l4.70 -4.70M371.98 82.41h4.70M374.33 80.06v4.70M372.26 77.08l4.70 4.70M372.26 81.78l4.70 -4.70M372.26 79.43h4.70M374.61 77.08v4.70M372.54 77.63l4.70 4.70M372.54 82.33l4.70 -4.70M372.54 79.98h4.70M374.89 77.63v4.70M372.81 73.73l4.70 4.70M372.81 78.43l4.70 -4.70M372.81 76.08h4.70M375.16 73.73v4.70M373.09 71.76l4.70 4.70M373.09 76.46l4.70 -4.70M373.09 74.11h4.70M375.44 71.76v4.70M373.36 66.85l4.70 4.70M373.36 71.55l4.70 -4.70M373.36 69.20h4.70M375.71 66.85v4.70M373.63 63.52l4.70 4.70M373.63 68.22l4.70 -4.70M373.63 65.87h4.70M375.98 63.52v4.70M373.89 62.47l4.70 4.70M373.89 67.17l4.70 -4.70M373.89 64.82h4.70M376.24 62.47v4.70M374.16 57.87l4.70 4.70M374.16 62.57l4.70 -4.70M374.16 60.22h4.70M376.51 57.87v4.70M374.42 52.94l4.70 4.70M374.42 57.64l4.70 -4.70M374.42 55.29h4.70M376.77 52.94v4.70M374.69 52.91l4.70 4.70M374.69 57.61l4.70 -4.70M374.69 55.26h4.70M377.04 52.91v4.70M374.95 48.22l4.70 4.70M374.95 52.92l4.70 -4.70M374.95 50.57h4.70M377.30 48.22v4.70M375.21 43.99l4.70 4.70M375.21 48.69l4.70 -4.70M375.21 46.34h4.70M377.56 43.99v4.70M375.46 36.24l4.70 4.70M375.46 40.94l4.70 -4.70M375.46 38.59h4.70M377.81 36.24v4.70M375.72 34.49l4.70 4.70M375.72 39.19l4.70 -4.70M375.72 36.84h4.70M378.07 34.49v4.70M376.17 28.65l4.70 4.70M376.17 33.35l4.70 -4.70M376.17 31.00h4.70M378.52 28.65v4.70M376.42 28.65l4.70 4.70M376.42 33.35l4.70 -4.70M376.42 31.00h4.70M378.77 28.65v4.70M376.67 28.65l4.70 4.70M376.67 33.35l4.70 -4.70M376.67 31.00h4.70M379.02 28.65v4.70M376.92 28.65l4.70 4.70M376.92 33.35l4.70 -4.70M376.92 31.00h4.70M379.27 28.65v4.70M377.17 28.65l4.70 4.70M377.17 33.35l4.70 -4.70M377.17 31.00h4.70M379.52 28.65v4.70M377.41 28.65l4.70 4.70M377.41 33.35l4.70 -4.70M377.41 31.00h4.70M379.76 28.65v4.70M377.66 28.65l4.70 4.70M377.66 33.35l4.70 -4.70M377.66 31.00h4.70M380.01 28.65v4.70M377.90 28.65l4.70 4.70M377.90 33.35l4.70 -4.70M377.90 31.00h4.70M380.25 28.65v4.70M378.14 28.65l4.70 4.70M378.14 33.35l4.70 -4.70M378.14 31.00h4.70M380.49 28.65v4.70M378.38 28.65l4.70 4.70M378.38 33.35l4.70 -4.70M378.38 31.00h4.70M380.73 28.65v4.70M378.61 28.65l4.70 4.70M378.61 33.35l4.70 -4.70M378.61 31.00h4.70M380.96 28.65v4.70M378.85 28.65l4.70 4.70M378.85 33.35l4.70 -4.70M378.85 31.00h4.70M381.20 28.65v4.70M379.08 28.65l4.70 4.70M379.08 33.35l4.70 -4.70M379.08 31.00h4.70M381.43 28.65v4.70M379.32 28.65l4.70 4.70M379.32 33.35l4.70 -4.70M379.32 31.00h4.70M381.67 28.65v4.70M379.55 28.65l4.70 4.70M379.55 33.35l4.70 -4.70M379.55 31.00h4.70M381.90 28.65v4.70M379.78 28.65l4.70 4.70M379.78 33.35l4.70 -4.70M379.78 31.00h4.70M382.13 28.65v4.70M380.01 28.65l4.70 4.70M380.01 33.35l4.70 -4.70M380.01 31.00h4.70M382.36 28.65v4.70M380.23 28.65l4.70 4.70M380.23 33.35l4.70 -4.70M380.23 31.00h4.70M382.58 28.65v4.70M380.46 28.65l4.70 4.70M380.46 33.35l4.70 -4.70M380.46 31.00h4.70M382.81 28.65v4.70M380.68 28.65l4.70 4.70M380.68 33.35l4.70 -4.70M380.68 31.00h4.70M383.03 28.65v4.70M380.91 28.65l4.70 4.70M380.91 33.35l4.70 -4.70M380.91 31.00h4.70M383.26 28.65v4.70M381.13 28.65l4.70 4.70M381.13 33.35l4.70 -4.70M381.13 31.00h4.70M383.48 28.65v4.70M381.35 28.65l4.70 4.70M381.35 33.35l4.70 -4.70M381.35 31.00h4.70M383.70 28.65v4.70M381.57 28.65l4.70 4.70M381.57 33.35l4.70 -4.70M381.57 31.00h4.70M383.92 28.65v4.70M381.79 28.65l4.70 4.70M381.79 33.35l4.70 -4.70M381.79 31.00h4.70M384.14 28.65v4.70M382.00 28.65l4.70 4.70M382.00 33.35l4.70 -4.70M382.00 31.00h4.70M384.35 28.65v4.70M382.22 28.65l4.70 4.70M382.22 33.35l4.70 -4.70M382.22 31.00h4.70M384.57 28.65v4.70M382.43 28.65l4.70 4.70M382.43 33.35l4.70 -4.70M382.43 31.00h4.70M384.78 28.65v4.70M382.65 28.65l4.70 4.70M382.65 33.35l4.70 -4.70M382.65 31.00h4.70M385.00 28.65v4.70M382.86 28.65l4.70 4.70M382.86 33.35l4.70 -4.70M382.86 31.00h4.70M385.21 28.65v4.70M383.07 28.65l4.70 4.70M383.07 33.35l4.70 -4.70M383.07 31.00h4.70M385.42 28.65v4.70M383.28 28.65l4.70 4.70M383.28 33.35l4.70 -4.70M383.28 31.00h4.70M385.63 28.65v4.70M383.49 28.65l4.70 4.70M383.49 33.35l4.70 -4.70M383.49 31.00h4.70M385.84 28.65v4.70M383.69 28.65l4.70 4.70M383.69 33.35l4.70 -4.70M383.69 31.00h4.70M386.04 28.65v4.70M383.90 28.65l4.70 4.70M383.90 33.35l4.70 -4.70M383.90 31.00h4.70M386.25 28.65v4.70M384.10 28.65l4.70 4.70M384.10 33.35l4.70 -4.70M384.10 31.00h4.70M386.45 28.65v4.70M384.31 28.65l4.70 4.70M384.31 33.35l4.70 -4.70M384.31 31.00h4.70M386.66 28.65v4.70M384.51 28.65l4.70 4.70M384.51 33.35l4.70 -4.70M384.51 31.00h4.70M386.86 28.65v4.70M384.71 28.65l4.70 4.70M384.71 33.35l4.70 -4.70M384.71 31.00h4.70M387.06 28.65v4.70M384.91 28.65l4.70 4.70M384.91 33.35l4.70 -4.70M384.91 31.00h4.70M387.26 28.65v4.70M385.11 28.65l4.70 4.70M385.11 33.35l4.70 -4.70M385.11 31.00h4.70M387.46 28.65v4.70M385.31 28.65l4.70 4.70M385.31 33.35l4.70 -4.70M385.31 31.00h4.70M387.66 28.65v4.70M385.51 28.65l4.70 4.70M385.51 33.35l4.70 -4.70M385.51 31.00h4.70M387.86 28.65v4.70M385.70 28.65l4.70 4.70M385.70 33.35l4.70 -4.70M385.70 31.00h4.70M388.05 28.65v4.70M385.90 28.65l4.70 4.70M385.90 33.35l4.70 -4.70M385.90 31.00h4.70M388.25 28.65v4.70M386.09 28.65l4.70 4.70M386.09 33.35l4.70 -4.70M386.09 31.00h4.70M388.44 28.65v4.70M386.29 28.65l4.70 4.70M386.29 33.35l4.70 -4.70M386.29 31.00h4.70M388.64 28.65v4.70M386.48 28.65l4.70 4.70M386.48 33.35l4.70 -4.70M386.48 31.00h4.70M388.83 28.65v4.70M386.67 28.65l4.70 4.70M386.67 33.35l4.70 -4.70M386.67 31.00h4.70M389.02 28.65v4.70M386.86 28.65l4.70 4.70M386.86 33.35l4.70 -4.70M386.86 31.00h4.70M389.21 28.65v4.70M387.05 28.65l4.70 4.70M387.05 33.35l4.70 -4.70M387.05 31.00h4.70M389.40 28.65v4.70M387.24 28.65l4.70 4.70M387.24 33.35l4.70 -4.70M387.24 31.00h4.70M389.59 28.65v4.70M387.43 28.65l4.70 4.70M387.43 33.35l4.70 -4.70M387.43 31.00h4.70M389.78 28.65v4.70M387.61 28.65l4.70 4.70M387.61 33.35l4.70 -4.70M387.61 31.00h4.70M389.96 28.65v4.70M387.80 28.65l4.70 4.70M387.80 33.35l4.70 -4.70M387.80 31.00h4.70M390.15 28.65v4.70M387.98 28.65l4.70 4.70M387.98 33.35l4.70 -4.70M387.98 31.00h4.70M390.33 28.65v4.70M388.17 28.65l4.70 4.70M388.17 33.35l4.70 -4.70M388.17 31.00h4.70M390.52 28.65v4.70M388.35 28.65l4.70 4.70M388.35 33.35l4.70 -4.70M388.35 31.00h4.70M390.70 28.65v4.70M388.53 28.65l4.70 4.70M388.53 33.35l4.70 -4.70M388.53 31.00h4.70M390.88 28.65v4.70M388.71 28.65l4.70 4.70M388.71 33.35l4.70 -4.70M388.71 31.00h4.70M391.06 28.65v4.70M388.89 28.65l4.70 4.70M388.89 33.35l4.70 -4.70M388.89 31.00h4.70M391.24 28.65v4.70M389.07 28.65l4.70 4.70M389.07 33.35l4.70 -4.70M389.07 31.00h4.70M391.42 28.65v4.70M389.25 28.65l4.70 4.70M389.25 33.35l4.70 -4.70M389.25 31.00h4.70M391.60 28.65v4.70M389.43 28.65l4.70 4.70M389.43 33.35l4.70 -4.70M389.43 31.00h4.70M391.78 28.65v4.70M389.60 28.65l4.70 4.70M389.60 33.35l4.70 -4.70M389.60 31.00h4.70M391.95 28.65v4.70M389.78 28.65l4.70 4.70M389.78 33.35l4.70 -4.70M389.78 31.00h4.70M392.13 28.65v4.70M389.96 28.65l4.70 4.70M389.96 33.35l4.70 -4.70M389.96 31.00h4.70M392.31 28.65v4.70M390.13 28.65l4.70 4.70M390.13 33.35l4.70 -4.70M390.13 31.00h4.70M392.48 28.65v4.70M390.30 28.65l4.70 4.70M390.30 33.35l4.70 -4.70M390.30 31.00h4.70M392.65 28.65v4.70M390.48 28.65l4.70 4.70M390.48 33.35l4.70 -4.70M390.48 31.00h4.70M392.83 28.65v4.70M390.65 28.65l4.70 4.70M390.65 33.35l4.70 -4.70M390.65 31.00h4.70M393.00 28.65v4.70M390.82 28.65l4.70 4.70M390.82 33.35l4.70 -4.70M390.82 31.00h4.70M393.17 28.65v4.70M390.99 28.65l4.70 4.70M390.99 33.35l4.70 -4.70M390.99 31.00h4.70M393.34 28.65v4.70M391.16 28.65l4.70 4.70M391.16 33.35l4.70 -4.70M391.16 31.00h4.70M393.51 28.65v4.70M391.33 28.65l4.70 4.70M391.33 33.35l4.70 -4.70M391.33 31.00h4.70M393.68 28.65v4.70M391.50 28.65l4.70 4.70M391.50 33.35l4.70 -4.70M391.50 31.00h4.70M393.85 28.65v4.70M391.66 28.65l4.70 4.70M391.66 33.35l4.70 -4.70M391.66 31.00h4.70M394.01 28.65v4.70M391.83 28.65l4.70 4.70M391.83 33.35l4.70 -4.70M391.83 31.00h4.70M394.18 28.65v4.70M392.00 28.65l4.70 4.70M392.00 33.35l4.70 -4.70M392.00 31.00h4.70M394.35 28.65v4.70M392.16 28.65l4.70 4.70M392.16 33.35l4.70 -4.70M392.16 31.00h4.70M394.51 28.65v4.70M392.33 28.65l4.70 4.70M392.33 33.35l4.70 -4.70M392.33 31.00h4.70M394.68 28.65v4.70M392.49 28.65l4.70 4.70M392.49 33.35l4.70 -4.70M392.49 31.00h4.70M394.84 28.65v4.70M392.65 28.65l4.70 4.70M392.65 33.35l4.70 -4.70M392.65 31.00h4.70M395.00 28.65v4.70M392.81 28.65l4.70 4.70M392.81 33.35l4.70 -4.70M392.81 31.00h4.70M395.16 28.65v4.70M392.98 28.65l4.70 4.70M392.98 33.35l4.70 -4.70M392.98 31.00h4.70M395.33 28.65v4.70M393.14 28.65l4.70 4.70M393.14 33.35l4.70 -4.70M393.14 31.00h4.70M395.49 28.65v4.70M393.30 28.65l4.70 4.70M393.30 33.35l4.70 -4.70M393.30 31.00h4.70M395.65 28.65v4.70M393.46 28.65l4.70 4.70M393.46 33.35l4.70 -4.70M393.46 31.00h4.70M395.81 28.65v4.70M393.61 28.65l4.70 4.70M393.61 33.35l4.70 -4.70M393.61 31.00h4.70M395.96 28.65v4.70M393.77 28.65l4.70 4.70M393.77 33.35l4.70 -4.70M393.77 31.00h4.70M396.12 28.65v4.70M393.93 28.65l4.70 4.70M393.93 33.35l4.70 -4.70M393.93 31.00h4.70M396.28 28.65v4.70M394.09 28.65l4.70 4.70M394.09 33.35l4.70 -4.70M394.09 31.00h4.70M396.44 28.65v4.70M394.24 28.65l4.70 4.70M394.24 33.35l4.70 -4.70M394.24 31.00h4.70M396.59 28.65v4.70M394.40 28.65l4.70 4.70M394.40 33.35l4.70 -4.70M394.40 31.00h4.70M396.75 28.65v4.70M394.55 28.65l4.70 4.70M394.55 33.35l4.70 -4.70M394.55 31.00h4.70M396.90 28.65v4.70M394.71 28.65l4.70 4.70M394.71 33.35l4.70 -4.70M394.71 31.00h4.70M397.06 28.65v4.70M394.86 28.65l4.70 4.70M394.86 33.35l4.70 -4.70M394.86 31.00h4.70M397.21 28.65v4.70M395.01 28.65l4.70 4.70M395.01 33.35l4.70 -4.70M395.01 31.00h4.70M397.36 28.65v4.70M395.17 28.65l4.70 4.70M395.17 33.35l4.70 -4.70M395.17 31.00h4.70M397.52 28.65v4.70M395.32 28.65l4.70 4.70M395.32 33.35l4.70 -4.70M395.32 31.00h4.70M397.67 28.65v4.70M395.47 28.65l4.70 4.70M395.47 33.35l4.70 -4.70M395.47 31.00h4.70M397.82 28.65v4.70M395.62 28.65l4.70 4.70M395.62 33.35l4.70 -4.70M395.62 31.00h4.70M397.97 28.65v4.70M395.77 28.65l4.70 4.70M395.77 33.35l4.70 -4.70M395.77 31.00h4.70M398.12 28.65v4.70M395.92 28.65l4.70 4.70M395.92 33.35l4.70 -4.70M395.92 31.00h4.70M398.27 28.65v4.70M396.07 28.65l4.70 4.70M396.07 33.35l4.70 -4.70M396.07 31.00h4.70M398.42 28.65v4.70M396.22 28.65l4.70 4.70M396.22 33.35l4.70 -4.70M396.22 31.00h4.70M398.57 28.65v4.70M396.36 28.65l4.70 4.70M396.36 33.35l4.70 -4.70M396.36 31.00h4.70M398.71 28.65v4.70M396.51 28.65l4.70 4.70M396.51 33.35l4.70 -4.70M396.51 31.00h4.70M398.86 28.65v4.70M396.66 28.65l4.70 4.70M396.66 33.35l4.70 -4.70M396.66 31.00h4.70M399.01 28.65v4.70M396.80 28.65l4.70 4.70M396.80 33.35l4.70 -4.70M396.80 31.00h4.70M399.15 28.65v4.70M396.95 28.65l4.70 4.70M396.95 33.35l4.70 -4.70M396.95 31.00h4.70M399.30 28.65v4.70M397.09 28.65l4.70 4.70M397.09 33.35l4.70 -4.70M397.09 31.00h4.70M399.44 28.65v4.70M397.24 28.65l4.70 4.70M397.24 33.35l4.70 -4.70M397.24 31.00h4.70M399.59 28.65v4.70M397.38 28.65l4.70 4.70M397.38 33.35l4.70 -4.70M397.38 31.00h4.70M399.73 28.65v4.70M397.52 28.65l4.70 4.70M397.52 33.35l4.70 -4.70M397.52 31.00h4.70M399.87 28.65v4.70M397.67 28.65l4.70 4.70M397.67 33.35l4.70 -4.70M397.67 31.00h4.70M400.02 28.65v4.70M397.81 28.65l4.70 4.70M397.81 33.35l4.70 -4.70M397.81 31.00h4.70M400.16 28.65v4.70M397.95 28.65l4.70 4.70M397.95 33.35l4.70 -4.70M397.95 31.00h4.70M400.30 28.65v4.70M398.09 28.65l4.70 4.70M398.09 33.35l4.70 -4.70M398.09 31.00h4.70M400.44 28.65v4.70M398.23 28.65l4.70 4.70M398.23 33.35l4.70 -4.70M398.23 31.00h4.70M400.58 28.65v4.70M398.37 28.65l4.70 4.70M398.37 33.35l4.70 -4.70M398.37 31.00h4.70M400.72 28.65v4.70M398.51 28.65l4.70 4.70M398.51 33.35l4.70 -4.70M398.51 31.00h4.70M400.86 28.65v4.70M398.65 28.65l4.70 4.70M398.65 33.35l4.70 -4.70M398.65 31.00h4.70M401.00 28.65v4.70M398.79 28.65l4.70 4.70M398.79 33.35l4.70 -4.70M398.79 31.00h4.70M401.14 28.65v4.70M398.93 28.65l4.70 4.70M398.93 33.35l4.70 -4.70M398.93 31.00h4.70M401.28 28.65v4.70M399.06 28.65l4.70 4.70M399.06 33.35l4.70 -4.70M399.06 31.00h4.70M401.41 28.65v4.70M399.20 28.65l4.70 4.70M399.20 33.35l4.70 -4.70M399.20 31.00h4.70M401.55 28.65v4.70M399.34 28.65l4.70 4.70M399.34 33.35l4.70 -4.70M399.34 31.00h4.70M401.69 28.65v4.70M399.47 28.65l4.70 4.70M399.47 33.35l4.70 -4.70M399.47 31.00h4.70M401.82 28.65v4.70M399.61 28.65l4.70 4.70M399.61 33.35l4.70 -4.70M399.61 31.00h4.70M401.96 28.65v4.70M399.74 28.65l4.70 4.70M399.74 33.35l4.70 -4.70M399.74 31.00h4.70M402.09 28.65v4.70M399.88 28.65l4.70 4.70M399.88 33.35l4.70 -4.70M399.88 31.00h4.70M402.23 28.65v4.70M400.01 28.65l4.70 4.70M400.01 33.35l4.70 -4.70M400.01 31.00h4.70M402.36 28.65v4.70M400.14 28.65l4.70 4.70M400.14 33.35l4.70 -4.70M400.14 31.00h4.70M402.49 28.65v4.70M400.28 28.65l4.70 4.70M400.28 33.35l4.70 -4.70M400.28 31.00h4.70M402.63 28.65v4.70M400.41 28.65l4.70 4.70M400.41 33.35l4.70 -4.70M400.41 31.00h4.70M402.76 28.65v4.70M400.54 28.65l4.70 4.70M400.54 33.35l4.70 -4.70M400.54 31.00h4.70M402.89 28.65v4.70M400.67 28.65l4.70 4.70M400.67 33.35l4.70 -4.70M400.67 31.00h4.70M403.02 28.65v4.70M400.80 28.65l4.70 4.70M400.80 33.35l4.70 -4.70M400.80 31.00h4.70M403.15 28.65v4.70M400.93 28.65l4.70 4.70M400.93 33.35l4.70 -4.70M400.93 31.00h4.70M403.28 28.65v4.70M401.06 28.65l4.70 4.70M401.06 33.35l4.70 -4.70M401.06 31.00h4.70M403.41 28.65v4.70M401.19 28.65l4.70 4.70M401.19 33.35l4.70 -4.70M401.19 31.00h4.70M403.54 28.65v4.70M401.32 28.65l4.70 4.70M401.32 33.35l4.70 -4.70M401.32 31.00h4.70M403.67 28.65v4.70M401.45 28.65l4.70 4.70M401.45 33.35l4.70 -4.70M401.45 31.00h4.70M403.80 28.65v4.70M401.58 28.65l4.70 4.70M401.58 33.35l4.70 -4.70M401.58 31.00h4.70M403.93 28.65v4.70M401.71 28.65l4.70 4.70M401.71 33.35l4.70 -4.70M401.71 31.00h4.70M404.06 28.65v4.70M401.83 28.65l4.70 4.70M401.83 33.35l4.70 -4.70M401.83 31.00h4.70M404.18 28.65v4.70M401.96 28.65l4.70 4.70M401.96 33.35l4.70 -4.70M401.96 31.00h4.70M404.31 28.65v4.70M402.09 28.65l4.70 4.70M402.09 33.35l4.70 -4.70M402.09 31.00h4.70M404.44 28.65v4.70M402.21 28.65l4.70 4.70M402.21 33.35l4.70 -4.70M402.21 31.00h4.70M404.56 28.65v4.70M402.34 28.65l4.70 4.70M402.34 33.35l4.70 -4.70M402.34 31.00h4.70M404.69 28.65v4.70M402.47 28.65l4.70 4.70M402.47 33.35l4.70 -4.70M402.47 31.00h4.70M404.82 28.65v4.70M402.59 28.65l4.70 4.70M402.59 33.35l4.70 -4.70M402.59 31.00h4.70M404.94 28.65v4.70M402.71 28.65l4.70 4.70M402.71 33.35l4.70 -4.70M402.71 31.00h4.70M405.06 28.65v4.70M402.84 28.65l4.70 4.70M402.84 33.35l4.70 -4.70M402.84 31.00h4.70M405.19 28.65v4.70M402.96 28.65l4.70 4.70M402.96 33.35l4.70 -4.70M402.96 31.00h4.70M405.31 28.65v4.70M403.09 28.65l4.70 4.70M403.09 33.35l4.70 -4.70M403.09 31.00h4.70M405.44 28.65v4.70M403.21 28.65l4.70 4.70M403.21 33.35l4.70 -4.70M403.21 31.00h4.70M405.56 28.65v4.70M403.33 28.65l4.70 4.70M403.33 33.35l4.70 -4.70M403.33 31.00h4.70M405.68 28.65v4.70M403.45 28.65l4.70 4.70M403.45 33.35l4.70 -4.70M403.45 31.00h4.70M405.80 28.65v4.70M403.58 28.65l4.70 4.70M403.58 33.35l4.70 -4.70M403.58 31.00h4.70M405.93 28.65v4.70M403.70 28.65l4.70 4.70M403.70 33.35l4.70 -4.70M403.70 31.00h4.70M406.05 28.65v4.70M403.82 28.65l4.70 4.70M403.82 33.35l4.70 -4.70M403.82 31.00h4.70M406.17 28.65v4.70M403.94 28.65l4.70 4.70M403.94 33.35l4.70 -4.70M403.94 31.00h4.70M406.29 28.65v4.70M404.06 28.65l4.70 4.70M404.06 33.35l4.70 -4.70M404.06 31.00h4.70M406.41 28.65v4.70M404.18 28.65l4.70 4.70M404.18 33.35l4.70 -4.70M404.18 31.00h4.70M406.53 28.65v4.70M404.30 28.65l4.70 4.70M404.30 33.35l4.70 -4.70M404.30 31.00h4.70M406.65 28.65v4.70M404.42 28.65l4.70 4.70M404.42 33.35l4.70 -4.70M404.42 31.00h4.70M406.77 28.65v4.70M404.53 28.65l4.70 4.70M404.53 33.35l4.70 -4.70M404.53 31.00h4.70M406.88 28.65v4.70M404.65 28.65l4.70 4.70M404.65 33.35l4.70 -4.70M404.65 31.00h4.70M407.00 28.65v4.70M404.77 28.65l4.70 4.70M404.77 33.35l4.70 -4.70M404.77 31.00h4.70M407.12 28.65v4.70M404.89 28.65l4.70 4.70M404.89 33.35l4.70 -4.70M404.89 31.00h4.70M407.24 28.65v4.70M405.01 28.65l4.70 4.70M405.01 33.35l4.70 -4.70M405.01 31.00h4.70M407.36 28.65v4.70M405.12 28.65l4.70 4.70M405.12 33.35l4.70 -4.70M405.12 31.00h4.70M407.47 28.65v4.70M405.24 28.65l4.70 4.70M405.24 33.35l4.70 -4.70M405.24 31.00h4.70M407.59 28.65v4.70M405.35 28.65l4.70 4.70M405.35 33.35l4.70 -4.70M405.35 31.00h4.70M407.70 28.65v4.70M405.47 28.65l4.70 4.70M405.47 33.35l4.70 -4.70M405.47 31.00h4.70M407.82 28.65v4.70M405.59 28.65l4.70 4.70M405.59 33.35l4.70 -4.70M405.59 31.00h4.70M407.94 28.65v4.70M405.70 28.65l4.70 4.70M405.70 33.35l4.70 -4.70M405.70 31.00h4.70M408.05 28.65v4.70M405.81 28.65l4.70 4.70M405.81 33.35l4.70 -4.70M405.81 31.00h4.70M408.16 28.65v4.70M405.93 28.65l4.70 4.70M405.93 33.35l4.70 -4.70M405.93 31.00h4.70M408.28 28.65v4.70M406.04 28.65l4.70 4.70M406.04 33.35l4.70 -4.70M406.04 31.00h4.70M408.39 28.65v4.70M406.16 28.65l4.70 4.70M406.16 33.35l4.70 -4.70M406.16 31.00h4.70M408.51 28.65v4.70M406.27 28.65l4.70 4.70M406.27 33.35l4.70 -4.70M406.27 31.00h4.70M408.62 28.65v4.70M406.38 28.65l4.70 4.70M406.38 33.35l4.70 -4.70M406.38 31.00h4.70M408.73 28.65v4.70M406.50 28.65l4.70 4.70M406.50 33.35l4.70 -4.70M406.50 31.00h4.70M408.85 28.65v4.70M406.61 28.65l4.70 4.70M406.61 33.35l4.70 -4.70M406.61 31.00h4.70M408.96 28.65v4.70M406.72 28.65l4.70 4.70M406.72 33.35l4.70 -4.70M406.72 31.00h4.70M409.07 28.65v4.70M406.83 28.65l4.70 4.70M406.83 33.35l4.70 -4.70M406.83 31.00h4.70M409.18 28.65v4.70M406.94 28.65l4.70 4.70M406.94 33.35l4.70 -4.70M406.94 31.00h4.70M409.29 28.65v4.70M407.05 28.65l4.70 4.70M407.05 33.35l4.70 -4.70M407.05 31.00h4.70M409.40 28.65v4.70M407.16 28.65l4.70 4.70M407.16 33.35l4.70 -4.70M407.16 31.00h4.70M409.51 28.65v4.70M407.27 28.65l4.70 4.70M407.27 33.35l4.70 -4.70M407.27 31.00h4.70M409.62 28.65v4.70M407.38 28.65l4.70 4.70M407.38 33.35l4.70 -4.70M407.38 31.00h4.70M409.73 28.65v4.70M407.49 28.65l4.70 4.70M407.49 33.35l4.70 -4.70M407.49 31.00h4.70M409.84 28.65v4.70M407.60 28.65l4.70 4.70M407.60 33.35l4.70 -4.70M407.60 31.00h4.70M409.95 28.65v4.70M407.71 28.65l4.70 4.70M407.71 33.35l4.70 -4.70M407.71 31.00h4.70M410.06 28.65v4.70M407.82 28.65l4.70 4.70M407.82 33.35l4.70 -4.70M407.82 31.00h4.70M410.17 28.65v4.70M407.93 28.65l4.70 4.70M407.93 33.35l4.70 -4.70M407.93 31.00h4.70M410.28 28.65v4.70M408.04 28.65l4.70 4.70M408.04 33.35l4.70 -4.70M408.04 31.00h4.70M410.39 28.65v4.70M408.14 28.65l4.70 4.70M408.14 33.35l4.70 -4.70M408.14 31.00h4.70M410.49 28.65v4.70M408.25 28.65l4.70 4.70M408.25 33.35l4.70 -4.70M408.25 31.00h4.70M410.60 28.65v4.70M408.36 28.65l4.70 4.70M408.36 33.35l4.70 -4.70M408.36 31.00h4.70M410.71 28.65v4.70M408.46 28.65l4.70 4.70M408.46 33.35l4.70 -4.70M408.46 31.00h4.70M410.81 28.65v4.70M408.57 28.65l4.70 4.70M408.57 33.35l4.70 -4.70M408.57 31.00h4.70M410.92 28.65v4.70M408.68 28.65l4.70 4.70M408.68 33.35l4.70 -4.70M408.68 31.00h4.70M411.03 28.65v4.70M408.78 28.65l4.70 4.70M408.78 33.35l4.70 -4.70M408.78 31.00h4.70M411.13 28.65v4.70M408.89 28.65l4.70 4.70M408.89 33.35l4.70 -4.70M408.89 31.00h4.70M411.24 28.65v4.70M408.99 28.65l4.70 4.70M408.99 33.35l4.70 -4.70M408.99 31.00h4.70M411.34 28.65v4.70M409.10 28.65l4.70 4.70M409.10 33.35l4.70 -4.70M409.10 31.00h4.70M411.45 28.65v4.70M409.20 28.65l4.70 4.70M409.20 33.35l4.70 -4.70M409.20 31.00h4.70M411.55 28.65v4.70M409.31 28.65l4.70 4.70M409.31 33.35l4.70 -4.70M409.31 31.00h4.70M411.66 28.65v4.70M409.41 28.65l4.70 4.70M409.41 33.35l4.70 -4.70M409.41 31.00h4.70M411.76 28.65v4.70M409.52 28.65l4.70 4.70M409.52 33.35l4.70 -4.70M409.52 31.00h4.70M411.87 28.65v4.70M409.62 28.65l4.70 4.70M409.62 33.35l4.70 -4.70M409.62 31.00h4.70M411.97 28.65v4.70M409.72 28.65l4.70 4.70M409.72 33.35l4.70 -4.70M409.72 31.00h4.70M412.07 28.65v4.70M409.83 28.65l4.70 4.70M409.83 33.35l4.70 -4.70M409.83 31.00h4.70M412.18 28.65v4.70M409.93 28.65l4.70 4.70M409.93 33.35l4.70 -4.70M409.93 31.00h4.70M412.28 28.65v4.70M410.03 28.65l4.70 4.70M410.03 33.35l4.70 -4.70M410.03 31.00h4.70M412.38 28.65v4.70M410.13 28.65l4.70 4.70M410.13 33.35l4.70 -4.70M410.13 31.00h4.70M412.48 28.65v4.70M410.23 28.65l4.70 4.70M410.23 33.35l4.70 -4.70M410.23 31.00h4.70M412.58 28.65v4.70M410.34 28.65l4.70 4.70M410.34 33.35l4.70 -4.70M410.34 31.00h4.70M412.69 28.65v4.70M410.44 28.65l4.70 4.70M410.44 33.35l4.70 -4.70M410.44 31.00h4.70M412.79 28.65v4.70M410.54 28.65l4.70 4.70M410.54 33.35l4.70 -4.70M410.54 31.00h4.70M412.89 28.65v4.70M410.64 28.65l4.70 4.70M410.64 33.35l4.70 -4.70M410.64 31.00h4.70M412.99 28.65v4.70M410.74 28.65l4.70 4.70M410.74 33.35l4.70 -4.70M410.74 31.00h4.70M413.09 28.65v4.70M410.84 28.65l4.70 4.70M410.84 33.35l4.70 -4.70M410.84 31.00h4.70M413.19 28.65v4.70M410.94 28.65l4.70 4.70M410.94 33.35l4.70 -4.70M410.94 31.00h4.70M413.29 28.65v4.70M411.04 28.65l4.70 4.70M411.04 33.35l4.70 -4.70M411.04 31.00h4.70M413.39 28.65v4.70M411.14 28.65l4.70 4.70M411.14 33.35l4.70 -4.70M411.14 31.00h4.70M413.49 28.65v4.70M411.24 28.65l4.70 4.70M411.24 33.35l4.70 -4.70M411.24 31.00h4.70M413.59 28.65v4.70M411.34 28.65l4.70 4.70M411.34 33.35l4.70 -4.70M411.34 31.00h4.70M413.69 28.65v4.70M411.44 28.65l4.70 4.70M411.44 33.35l4.70 -4.70M411.44 31.00h4.70M413.79 28.65v4.70M411.53 28.65l4.70 4.70M411.53 33.35l4.70 -4.70M411.53 31.00h4.70M413.88 28.65v4.70M411.63 28.65l4.70 4.70M411.63 33.35l4.70 -4.70M411.63 31.00h4.70M413.98 28.65v4.70M300.25 199.85l4.70 4.70M300.25 204.55l4.70 -4.70M300.25 202.20h4.70M302.60 199.85v4.70" fill="none" stroke="#0000ff" stroke-width="0.85"/>
<path d="M151.46 195.28h5.00v5.00h-5.00ZM200.52 258.18h5.00v5.00h-5.00ZM221.06 244.90h5.00v5.00h-5.00ZM234.25 236.17h5.00v5.00h-5.00ZM243.98 229.61h5.00v5.00h-5.00ZM251.70 223.86h5.00v5.00h-5.00ZM258.10 220.00h5.00v5.00h-5.00ZM263.56 214.56h5.00v5.00h-5.00ZM268.33 212.51h5.00v5.00h-5.00ZM272.55 208.79h5.00v5.00h-5.00ZM276.35 206.53h5.00v5.00h-5.00ZM279.80 203.43h5.00v5.00h-5.00ZM282.96 201.78h5.00v5.00h-5.00ZM285.87 199.11h5.00v5.00h-5.00ZM288.57 196.90h5.00v5.00h-5.00ZM291.09 195.16h5.00v5.00h-5.00ZM293.45 193.70h5.00v5.00h-5.00ZM295.67 191.39h5.00v5.00h-5.00ZM297.77 189.86h5.00v5.00h-5.00ZM299.76 188.93h5.00v5.00h-5.00ZM301.64 187.39h5.00v5.00h-5.00ZM303.44 186.07h5.00v5.00h-5.00ZM305.15 184.99h5.00v5.00h-5.00ZM306.79 183.79h5.00v5.00h-5.00ZM308.36 182.90h5.00v5.00h-5.00ZM309.86 182.00h5.00v5.00h-5.00ZM311.31 181.03h5.00v5.00h-5.00ZM312.71 180.55h5.00v5.00h-5.00ZM314.05 179.19h5.00v5.00h-5.00ZM315.35 178.53h5.00v5.00h-5.00ZM316.60 177.38h5.00v5.00h-5.00ZM317.82 176.74h5.00v5.00h-5.00ZM318.99 175.62h5.00v5.00h-5.00ZM320.13 175.10h5.00v5.00h-5.00ZM321.24 174.12h5.00v5.00h-5.00ZM322.31 174.13h5.00v5.00h-5.00ZM323.36 173.25h5.00v5.00h-5.00ZM324.37 172.16h5.00v5.00h-5.00ZM325.36 171.74h5.00v5.00h-5.00ZM326.33 171.51h5.00v5.00h-5.00ZM327.26 170.00h5.00v5.00h-5.00ZM328.18 170.06h5.00v5.00h-5.00ZM329.08 169.03h5.00v5.00h-5.00ZM329.95 168.46h5.00v5.00h-5.00ZM330.80 168.19h5.00v5.00h-5.00ZM331.64 167.15h5.00v5.00h-5.00ZM332.46 166.68h5.00v5.00h-5.00ZM333.25 166.28h5.00v5.00h-5.00ZM334.04 166.02h5.00v5.00h-5.00ZM334.80 164.83h5.00v5.00h-5.00ZM335.55 164.65h5.00v5.00h-5.00ZM336.29 163.72h5.00v5.00h-5.00ZM337.01 162.87h5.00v5.00h-5.00ZM337.72 161.87h5.00v5.00h-5.00ZM338.42 161.06h5.00v5.00h-5.00ZM339.10 160.03h5.00v5.00h-5.00ZM339.77 159.38h5.00v5.00h-5.00ZM340.43 158.47h5.00v5.00h-5.00ZM341.08 158.24h5.00v5.00h-5.00ZM341.71 156.87h5.00v5.00h-5.00ZM342.34 155.91h5.00v5.00h-5.00ZM342.95 154.98h5.00v5.00h-5.00ZM343.56 154.89h5.00v5.00h-5.00ZM344.15 154.09h5.00v5.00h-5.00ZM344.74 153.07h5.00v5.00h-5.00ZM345.32 151.87h5.00v5.00h-5.00ZM345.89 151.03h5.00v5.00h-5.00ZM346.45 150.30h5.00v5.00h-5.00ZM347.00 149.69h5.00v5.00h-5.00ZM347.54 148.63h5.00v5.00h-5.00ZM348.08 148.16h5.00v5.00h-5.00ZM348.61 147.24h5.00v5.00h-5.00ZM349.13 147.20h5.00v5.00h-5.00ZM349.64 146.49h5.00v5.00h-5.00ZM350.15 145.36h5.00v5.00h-5.00ZM350.65 144.25h5.00v5.00h-5.00ZM351.14 144.14h5.00v5.00h-5.00ZM351.63 142.66h5.00v5.00h-5.00ZM352.11 141.89h5.00v5.00h-5.00ZM352.59 140.73h5.00v5.00h-5.00ZM353.06 140.32h5.00v5.00h-5.00ZM353.52 139.63h5.00v5.00h-5.00ZM353.98 138.88h5.00v5.00h-5.00ZM354.43 137.81h5.00v5.00h-5.00ZM354.88 137.36h5.00v5.00h-5.00ZM355.32 136.11h5.00v5.00h-5.00ZM355.75 135.50h5.00v5.00h-5.00ZM356.19 134.37h5.00v5.00h-5.00ZM356.61 133.74h5.00v5.00h-5.00ZM357.03 132.44h5.00v5.00h-5.00ZM357.45 131.50h5.00v5.00h-5.00ZM357.86 130.87h5.00v5.00h-5.00ZM358.27 129.95h5.00v5.00h-5.00ZM358.67 129.46h5.00v5.00h-5.00ZM359.07 128.56h5.00v5.00h-5.00ZM359.47 127.96h5.00v5.00h-5.00ZM359.86 127.05h5.00v5.00h-5.00ZM360.24 126.29h5.00v5.00h-5.00ZM360.63 125.66h5.00v5.00h-5.00ZM361.01 124.37h5.00v5.00h-5.00ZM361.38 123.52h5.00v5.00h-5.00ZM361.75 123.40h5.00v5.00h-5.00ZM362.12 121.71h5.00v5.00h-5.00ZM362.48 121.24h5.00v5.00h-5.00ZM362.84 120.13h5.00v5.00h-5.00ZM363.20 118.51h5.00v5.00h-5.00ZM363.56 118.28h5.00v5.00h-5.00ZM363.91 117.34h5.00v5.00h-5.00ZM364.25 116.08h5.00v5.00h-5.00ZM364.60 115.20h5.00v5.00h-5.00ZM364.94 114.31h5.00v5.00h-5.00ZM365.28 112.67h5.00v5.00h-5.00ZM365.61 112.08h5.00v5.00h-5.00ZM365.94 110.90h5.00v5.00h-5.00ZM366.27 110.07h5.00v5.00h-5.00ZM366.60 108.89h5.00v5.00h-5.00ZM366.92 107.78h5.00v5.00h-5.00ZM367.24 106.41h5.00v5.00h-5.00ZM367.56 105.60h5.00v5.00h-5.00ZM367.87 104.28h5.00v5.00h-5.00ZM368.19 103.19h5.00v5.00h-5.00ZM368.50 101.64h5.00v5.00h-5.00ZM368.80 99.87h5.00v5.00h-5.00ZM369.11 98.40h5.00v5.00h-5.00ZM369.41 97.07h5.00v5.00h-5.00ZM369.71 95.27h5.00v5.00h-5.00ZM370.01 94.47h5.00v5.00h-5.00ZM370.30 92.68h5.00v5.00h-5.00ZM370.60 91.24h5.00v5.00h-5.00ZM370.89 89.74h5.00v5.00h-5.00ZM371.18 88.32h5.00v5.00h-5.00ZM371.46 86.01h5.00v5.00h-5.00ZM371.75 82.94h5.00v5.00h-5.00ZM372.03 81.17h5.00v5.00h-5.00ZM372.31 78.58h5.00v5.00h-5.00ZM372.59 75.81h5.00v5.00h-5.00ZM372.86 73.33h5.00v5.00h-5.00ZM373.14 70.97h5.00v5.00h-5.00ZM373.41 67.91h5.00v5.00h-5.00ZM373.68 65.37h5.00v5.00h-5.00ZM373.94 61.32h5.00v5.00h-5.00ZM374.21 57.60h5.00v5.00h-5.00ZM374.47 54.27h5.00v5.00h-5.00ZM374.74 51.23h5.00v5.00h-5.00ZM375.00 47.24h5.00v5.00h-5.00ZM375.26 42.88h5.00v5.00h-5.00ZM375.51 38.23h5.00v5.00h-5.00ZM375.77 32.90h5.00v5.00h-5.00ZM376.02 28.50h5.00v5.00h-5.00ZM376.27 28.50h5.00v5.00h-5.00ZM376.52 28.50h5.00v5.00h-5.00ZM376.77 28.50h5.00v5.00h-5.00ZM377.02 28.50h5.00v5.00h-5.00ZM377.26 28.50h5.00v5.00h-5.00ZM377.51 28.50h5.00v5.00h-5.00ZM377.75 28.50h5.00v5.00h-5.00ZM377.99 28.50h5.00v5.00h-5.00ZM378.23 28.50h5.00v5.00h-5.00ZM378.46 28.50h5.00v5.00h-5.00ZM378.70 28.50h5.00v5.00h-5.00ZM378.93 28.50h5.00v5.00h-5.00ZM379.17 28.50h5.00v5.00h-5.00ZM379.40 28.50h5.00v5.00h-5.00ZM379.63 28.50h5.00v5.00h-5.00ZM379.86 28.50h5.00v5.00h-5.00ZM380.08 28.50h5.00v5.00h-5.00ZM380.31 28.50h5.00v5.00h-5.00ZM380.53 28.50h5.00v5.00h-5.00ZM380.76 28.50h5.00v5.00h-5.00ZM380.98 28.50h5.00v5.00h-5.00ZM381.20 28.50h5.00v5.00h-5.00ZM381.42 28.50h5.00v5.00h-5.00ZM381.64 28.50h5.00v5.00h-5.00ZM381.85 28.50h5.00v5.00h-5.00ZM382.07 28.50h5.00v5.00h-5.00ZM382.28 28.50h5.00v5.00h-5.00ZM382.50 28.50h5.00v5.00h-5.00ZM382.71 28.50h5.00v5.00h-5.00ZM382.92 28.50h5.00v5.00h-5.00ZM383.13 28.50h5.00v5.00h-5.00ZM383.34 28.50h5.00v5.00h-5.00ZM383.54 28.50h5.00v5.00h-5.00ZM383.75 28.50h5.00v5.00h-5.00ZM383.95 28.50h5.00v5.00h-5.00ZM384.16 28.50h5.00v5.00h-5.00ZM384.36 28.50h5.00v5.00h-5.00ZM384.56 28.50h5.00v5.00h-5.00ZM384.76 28.50h5.00v5.00h-5.00ZM384.96 28.50h5.00v5.00h-5.00ZM385.16 28.50h5.00v5.00h-5.00ZM385.36 28.50h5.00v5.00h-5.00ZM385.55 28.50h5.00v5.00h-5.00ZM385.75 28.50h5.00v5.00h-5.00ZM385.94 28.50h5.00v5.00h-5.00ZM386.14 28.50h5.00v5.00h-5.00ZM386.33 28.50h5.00v5.00h-5.00ZM386.52 28.50h5.00v5.00h-5.00ZM386.71 28.50h5.00v5.00h-5.00ZM386.90 28.50h5.00v5.00h-5.00ZM387.09 28.50h5.00v5.00h-5.00ZM387.28 28.50h5.00v5.00h-5.00ZM387.46 28.50h5.00v5.00h-5.00ZM387.65 28.50h5.00v5.00h-5.00ZM387.83 28.50h5.00v5.00h-5.00ZM388.02 28.50h5.00v5.00h-5.00ZM388.20 28.50h5.00v5.00h-5.00ZM388.38 28.50h5.00v5.00h-5.00ZM388.56 28.50h5.00v5.00h-5.00ZM388.74 28.50h5.00v5.00h-5.00ZM388.92 28.50h5.00v5.00h-5.00ZM389.10 28.50h5.00v5.00h-5.00ZM389.28 28.50h5.00v5.00h-5.00ZM389.45 28.50h5.00v5.00h-5.00ZM389.63 28.50h5.00v5.00h-5.00ZM389.81 28.50h5.00v5.00h-5.00ZM389.98 28.50h5.00v5.00h-5.00ZM390.15 28.50h5.00v5.00h-5.00ZM390.33 28.50h5.00v5.00h-5.00ZM390.50 28.50h5.00v5.00h-5.00ZM390.67 28.50h5.00v5.00h-5.00ZM390.84 28.50h5.00v5.00h-5.00ZM391.01 28.50h5.00v5.00h-5.00ZM391.18 28.50h5.00v5.00h-5.00ZM391.35 28.50h5.00v5.00h-5.00ZM391.51 28.50h5.00v5.00h-5.00ZM391.68 28.50h5.00v5.00h-5.00ZM391.85 28.50h5.00v5.00h-5.00ZM392.01 28.50h5.00v5.00h-5.00ZM392.18 28.50h5.00v5.00h-5.00ZM392.34 28.50h5.00v5.00h-5.00ZM392.50 28.50h5.00v5.00h-5.00ZM392.66 28.50h5.00v5.00h-5.00ZM392.83 28.50h5.00v5.00h-5.00ZM392.99 28.50h5.00v5.00h-5.00ZM393.15 28.50h5.00v5.00h-5.00ZM393.31 28.50h5.00v5.00h-5.00ZM393.46 28.50h5.00v5.00h-5.00ZM393.62 28.50h5.00v5.00h-5.00ZM393.78 28.50h5.00v5.00h-5.00ZM393.94 28.50h5.00v5.00h-5.00ZM394.09 28.50h5.00v5.00h-5.00ZM394.25 28.50h5.00v5.00h-5.00ZM394.40 28.50h5.00v5.00h-5.00ZM394.56 28.50h5.00v5.00h-5.00ZM394.71 28.50h5.00v5.00h-5.00ZM394.86 28.50h5.00v5.00h-5.00ZM395.02 28.50h5.00v5.00h-5.00ZM395.17 28.50h5.00v5.00h-5.00ZM395.32 28.50h5.00v5.00h-5.00ZM395.47 28.50h5.00v5.00h-5.00ZM395.62 28.50h5.00v5.00h-5.00ZM395.77 28.50h5.00v5.00h-5.00ZM395.92 28.50h5.00v5.00h-5.00ZM396.07 28.50h5.00v5.00h-5.00ZM396.21 28.50h5.00v5.00h-5.00ZM396.36 28.50h5.00v5.00h-5.00ZM396.51 28.50h5.00v5.00h-5.00ZM396.65 28.50h5.00v5.00h-5.00ZM396.80 28.50h5.00v5.00h-5.00ZM396.94 28.50h5.00v5.00h-5.00ZM397.09 28.50h5.00v5.00h-5.00ZM397.23 28.50h5.00v5.00h-5.00ZM397.37 28.50h5.00v5.00h-5.00ZM397.52 28.50h5.00v5.00h-5.00ZM397.66 28.50h5.00v5.00h-5.00ZM397.80 28.50h5.00v5.00h-5.00ZM397.94 28.50h5.00v5.00h-5.00ZM398.08 28.50h5.00v5.00h-5.00ZM398.22 28.50h5.00v5.00h-5.00ZM398.36 28.50h5.00v5.00h-5.00ZM398.50 28.50h5.00v5.00h-5.00ZM398.64 28.50h5.00v5.00h-5.00ZM398.78 28.50h5.00v5.00h-5.00ZM398.91 28.50h5.00v5.00h-5.00ZM399.05 28.50h5.00v5.00h-5.00ZM399.19 28.50h5.00v5.00h-5.00ZM399.32 28.50h5.00v5.00h-5.00ZM399.46 28.50h5.00v5.00h-5.00ZM399.59 28.50h5.00v5.00h-5.00ZM399.73 28.50h5.00v5.00h-5.00ZM399.86 28.50h5.00v5.00h-5.00ZM399.99 28.50h5.00v5.00h-5.00ZM400.13 28.50h5.00v5.00h-5.00ZM400.26 28.50h5.00v5.00h-5.00ZM400.39 28.50h5.00v5.00h-5.00ZM400.52 28.50h5.00v5.00h-5.00ZM400.65 28.50h5.00v5.00h-5.00ZM400.78 28.50h5.00v5.00h-5.00ZM400.91 28.50h5.00v5.00h-5.00ZM401.04 28.50h5.00v5.00h-5.00ZM401.17 28.50h5.00v5.00h-5.00ZM401.30 28.50h5.00v5.00h-5.00ZM401.43 28.50h5.00v5.00h-5.00ZM401.56 28.50h5.00v5.00h-5.00ZM401.68 28.50h5.00v5.00h-5.00ZM401.81 28.50h5.00v5.00h-5.00ZM401.94 28.50h5.00v5.00h-5.00ZM402.06 28.50h5.00v5.00h-5.00ZM402.19 28.50h5.00v5.00h-5.00ZM402.32 28.50h5.00v5.00h-5.00ZM402.44 28.50h5.00v5.00h-5.00ZM402.56 28.50h5.00v5.00h-5.00ZM402.69 28.50h5.00v5.00h-5.00ZM402.81 28.50h5.00v5.00h-5.00ZM402.94 28.50h5.00v5.00h-5.00ZM403.06 28.50h5.00v5.00h-5.00ZM403.18 28.50h5.00v5.00h-5.00ZM403.30 28.50h5.00v5.00h-5.00ZM403.43 28.50h5.00v5.00h-5.00ZM403.55 28.50h5.00v5.00h-5.00ZM403.67 28.50h5.00v5.00h-5.00ZM403.79 28.50h5.00v5.00h-5.00ZM403.91 28.50h5.00v5.00h-5.00ZM404.03 28.50h5.00v5.00h-5.00ZM404.15 28.50h5.00v5.00h-5.00ZM404.27 28.50h5.00v5.00h-5.00ZM404.38 28.50h5.00v5.00h-5.00ZM404.50 28.50h5.00v5.00h-5.00ZM404.62 28.50h5.00v5.00h-5.00ZM404.74 28.50h5.00v5.00h-5.00ZM404.86 28.50h5.00v5.00h-5.00ZM404.97 28.50h5.00v5.00h-5.00ZM405.09 28.50h5.00v5.00h-5.00ZM405.20 28.50h5.00v5.00h-5.00ZM405.32 28.50h5.00v5.00h-5.00ZM405.44 28.50h5.00v5.00h-5.00ZM405.55 28.50h5.00v5.00h-5.00ZM405.66 28.50h5.00v5.00h-5.00ZM405.78 28.50h5.00v5.00h-5.00ZM405.89 28.50h5.00v5.00h-5.00ZM406.01 28.50h5.00v5.00h-5.00ZM406.12 28.50h5.00v5.00h-5.00ZM406.23 28.50h5.00v5.00h-5.00ZM406.35 28.50h5.00v5.00h-5.00ZM406.46 28.50h5.00v5.00h-5.00ZM406.57 28.50h5.00v5.00h-5.00ZM406.68 28.50h5.00v5.00h-5.00ZM406.79 28.50h5.00v5.00h-5.00ZM406.90 28.50h5.00v5.00h-5.00ZM407.01 28.50h5.00v5.00h-5.00ZM407.12 28.50h5.00v5.00h-5.00ZM407.23 28.50h5.00v5.00h-5.00ZM407.34 28.50h5.00v5.00h-5.00ZM407.45 28.50h5.00v5.00h-5.00ZM407.56 28.50h5.00v5.00h-5.00ZM407.67 28.50h5.00v5.00h-5.00ZM407.78 28.50h5.00v5.00h-5.00ZM407.89 28.50h5.00v5.00h-5.00ZM407.99 28.50h5.00v5.00h-5.00ZM408.10 28.50h5.00v5.00h-5.00ZM408.21 28.50h5.00v5.00h-5.00ZM408.31 28.50h5.00v5.00h-5.00ZM408.42 28.50h5.00v5.00h-5.00ZM408.53 28.50h5.00v5.00h-5.00ZM408.63 28.50h5.00v5.00h-5.00ZM408.74 28.50h5.00v5.00h-5.00ZM408.84 28.50h5.00v5.00h-5.00ZM408.95 28.50h5.00v5.00h-5.00ZM409.05 28.50h5.00v5.00h-5.00ZM409.16 28.50h5.00v5.00h-5.00ZM409.26 28.50h5.00v5.00h-5.00ZM409.37 28.50h5.00v5.00h-5.00ZM409.47 28.50h5.00v5.00h-5.00ZM409.57 28.50h5.00v5.00h-5.00ZM409.68 28.50h5.00v5.00h-5.00ZM409.78 28.50h5.00v5.00h-5.00ZM409.88 28.50h5.00v5.00h-5.00ZM409.98 28.50h5.00v5.00h-5.00ZM410.08 28.50h5.00v5.00h-5.00ZM410.19 28.50h5.00v5.00h-5.00ZM410.29 28.50h5.00v5.00h-5.00ZM410.39 28.50h5.00v5.00h-5.00ZM410.49 28.50h5.00v5.00h-5.00ZM410.59 28.50h5.00v5.00h-5.00ZM410.69 28.50h5.00v5.00h-5.00ZM410.79 28.50h5.00v5.00h-5.00ZM410.89 28.50h5.00v5.00h-5.00ZM410.99 28.50h5.00v5.00h-5.00ZM411.09 28.50h5.00v5.00h-5.00ZM411.19 28.50h5.00v5.00h-5.00ZM411.29 28.50h5.00v5.00h-5.00ZM411.38 28.50h5.00v5.00h-5.00ZM411.48 28.50h5.00v5.00h-5.00Z" fill="none" stroke="#ff0000" stroke-width="0.58"/>
<clipPath id="c"><rect x="0" y="0" width="455.0" height="382"/></clipPath>
<path clip-path="url(#c)" d="M203.60 167.50L205.90 162.45L208.20 167.50ZM252.70 155.40L255.00 150.35L257.30 155.40ZM272.80 144.60L275.10 139.55L277.40 144.60ZM286.20 131.70L288.50 126.65L290.80 131.70ZM295.90 126.70L298.20 121.65L300.50 126.70ZM303.80 119.70L306.10 114.65L308.40 119.70ZM310.10 116.70L312.40 111.65L314.70 116.70ZM315.50 109.90L317.80 104.85L320.10 109.90ZM320.50 108.80L322.80 103.75L325.10 108.80ZM324.70 106.70L327.00 101.65L329.30 106.70ZM328.70 104.20L331.00 99.15L333.30 104.20ZM332.00 99.60L334.30 94.55L336.60 99.60ZM335.40 102.80L337.70 97.75L340.00 102.80ZM337.90 94.40L340.20 89.35L342.50 94.40ZM341.50 91.10L343.80 86.05L346.10 91.10ZM342.90 94.10L345.20 89.05L347.50 94.10ZM346.20 93.80L348.50 88.75L350.80 93.80ZM348.70 89.40L351.00 84.35L353.30 89.40ZM350.40 87.40L352.70 82.35L355.00 87.40ZM352.90 90.40L355.20 85.35L357.50 90.40ZM355.40 88.30L357.70 83.25L360.00 88.30ZM357.60 84.90L359.90 79.85L362.20 84.90ZM360.50 87.40L362.80 82.35L365.10 87.40ZM363.00 83.20L365.30 78.15L367.60 83.20ZM364.83 81.76L367.13 76.71L369.43 81.76ZM366.18 80.87L368.48 75.82L370.78 80.87ZM367.47 80.63L369.77 75.58L372.07 80.63ZM368.73 80.03L371.03 74.98L373.33 80.03ZM369.94 78.42L372.24 73.37L374.54 78.42ZM371.12 77.40L373.42 72.35L375.72 77.40ZM372.26 74.52L374.56 69.47L376.86 74.52ZM373.36 73.69L375.66 68.64L377.96 73.69ZM374.44 73.01L376.74 67.96L379.04 73.01ZM375.48 73.59L377.78 68.54L380.08 73.59ZM376.50 70.52L378.80 65.47L381.10 70.52ZM377.49 69.56L379.79 64.51L382.09 69.56ZM378.45 66.03L380.75 60.98L383.05 66.03ZM379.39 64.47L381.69 59.42L383.99 64.47ZM380.31 63.47L382.61 58.42L384.91 63.47ZM381.20 63.13L383.50 58.08L385.80 63.13ZM382.08 61.05L384.38 56.00L386.68 61.05ZM382.93 58.84L385.23 53.79L387.53 58.84ZM383.76 55.50L386.06 50.45L388.36 55.50ZM384.58 54.15L386.88 49.10L389.18 54.15ZM385.38 51.40L387.68 46.35L389.98 51.40ZM386.16 48.77L388.46 43.72L390.76 48.77ZM386.93 45.08L389.23 40.03L391.53 45.08ZM387.68 45.03L389.98 39.98L392.28 45.03ZM388.42 40.34L390.72 35.29L393.02 40.34ZM389.14 40.45L391.44 35.40L393.74 40.45ZM389.85 38.90L392.15 33.85L394.45 38.90ZM390.54 34.57L392.84 29.52L395.14 34.57ZM391.23 35.42L393.53 30.37L395.83 35.42ZM391.90 36.27L394.20 31.22L396.50 36.27ZM392.56 36.43L394.86 31.38L397.16 36.43ZM393.20 34.47L395.50 29.42L397.80 34.47ZM393.84 33.60L396.14 28.55L398.44 33.60ZM394.46 33.40L396.76 28.35L399.06 33.40ZM395.08 35.27L397.38 30.22L399.68 35.27ZM395.69 33.40L397.99 28.35L400.29 33.40ZM396.28 33.40L398.58 28.35L400.88 33.40ZM396.87 33.40L399.17 28.35L401.47 33.40ZM397.45 33.40L399.75 28.35L402.05 33.40ZM398.01 33.40L400.31 28.35L402.61 33.40ZM398.57 33.40L400.87 28.35L403.17 33.40ZM399.13 33.40L401.43 28.35L403.73 33.40ZM399.67 33.40L401.97 28.35L404.27 33.40ZM400.21 33.40L402.51 28.35L404.81 33.40ZM400.73 33.40L403.03 28.35L405.33 33.40ZM401.26 33.40L403.56 28.35L405.86 33.40ZM401.77 33.40L404.07 28.35L406.37 33.40ZM402.28 33.40L404.58 28.35L406.88 33.40ZM402.78 33.40L405.08 28.35L407.38 33.40ZM403.27 33.40L405.57 28.35L407.87 33.40ZM403.76 33.40L406.06 28.35L408.36 33.40ZM404.24 33.40L406.54 28.35L408.84 33.40ZM404.71 33.40L407.01 28.35L409.31 33.40ZM405.18 33.40L407.48 28.35L409.78 33.40ZM405.65 33.40L407.95 28.35L410.25 33.40ZM406.10 33.40L408.40 28.35L410.70 33.40ZM406.56 33.40L408.86 28.35L411.16 33.40ZM407.00 33.40L409.30 28.35L411.60 33.40ZM407.44 33.40L409.74 28.35L412.04 33.40ZM407.88 33.40L410.18 28.35L412.48 33.40ZM408.31 33.40L410.61 28.35L412.91 33.40ZM408.74 33.40L411.04 28.35L413.34 33.40ZM409.16 33.40L411.46 28.35L413.76 33.40ZM409.58 33.40L411.88 28.35L414.18 33.40ZM409.99 33.40L412.29 28.35L414.59 33.40ZM410.40 33.40L412.70 28.35L415.00 33.40ZM410.80 33.40L413.10 28.35L415.40 33.40ZM411.20 33.40L413.50 28.35L415.80 33.40ZM411.59 33.40L413.89 28.35L416.19 33.40ZM411.98 33.40L414.28 28.35L416.58 33.40ZM412.37 33.40L414.67 28.35L416.97 33.40ZM412.75 33.40L415.05 28.35L417.35 33.40ZM413.13 33.40L415.43 28.35L417.73 33.40ZM413.51 33.40L415.81 28.35L418.11 33.40ZM413.88 33.40L416.18 28.35L418.48 33.40ZM414.25 33.40L416.55 28.35L418.85 33.40ZM414.61 33.40L416.91 28.35L419.21 33.40ZM414.97 33.40L417.27 28.35L419.57 33.40ZM415.33 33.40L417.63 28.35L419.93 33.40ZM415.68 33.40L417.98 28.35L420.28 33.40ZM416.03 33.40L418.33 28.35L420.63 33.40ZM416.38 33.40L418.68 28.35L420.98 33.40ZM416.72 33.40L419.02 28.35L421.32 33.40ZM417.07 33.40L419.37 28.35L421.67 33.40ZM417.40 33.40L419.70 28.35L422.00 33.40ZM417.74 33.40L420.04 28.35L422.34 33.40ZM418.07 33.40L420.37 28.35L422.67 33.40ZM418.40 33.40L420.70 28.35L423.00 33.40ZM418.72 33.40L421.02 28.35L423.32 33.40ZM419.05 33.40L421.35 28.35L423.65 33.40ZM419.37 33.40L421.67 28.35L423.97 33.40ZM419.69 33.40L421.99 28.35L424.29 33.40ZM420.00 33.40L422.30 28.35L424.60 33.40ZM420.31 33.40L422.61 28.35L424.91 33.40ZM420.62 33.40L422.92 28.35L425.22 33.40ZM420.93 33.40L423.23 28.35L425.53 33.40ZM421.24 33.40L423.54 28.35L425.84 33.40ZM421.54 33.40L423.84 28.35L426.14 33.40ZM421.84 33.40L424.14 28.35L426.44 33.40ZM422.14 33.40L424.44 28.35L426.74 33.40ZM422.43 33.40L424.73 28.35L427.03 33.40ZM422.72 33.40L425.02 28.35L427.32 33.40ZM423.02 33.40L425.32 28.35L427.62 33.40ZM423.30 33.40L425.60 28.35L427.90 33.40ZM423.59 33.40L425.89 28.35L428.19 33.40ZM423.87 33.40L426.17 28.35L428.47 33.40ZM424.16 33.40L426.46 28.35L428.76 33.40ZM424.44 33.40L426.74 28.35L429.04 33.40ZM424.71 33.40L427.01 28.35L429.31 33.40ZM424.99 33.40L427.29 28.35L429.59 33.40ZM425.26 33.40L427.56 28.35L429.86 33.40ZM425.53 33.40L427.83 28.35L430.13 33.40ZM425.80 33.40L428.10 28.35L430.40 33.40ZM426.07 33.40L428.37 28.35L430.67 33.40ZM426.34 33.40L428.64 28.35L430.94 33.40ZM426.60 33.40L428.90 28.35L431.20 33.40ZM426.86 33.40L429.16 28.35L431.46 33.40ZM427.12 33.40L429.42 28.35L431.72 33.40ZM427.38 33.40L429.68 28.35L431.98 33.40ZM427.64 33.40L429.94 28.35L432.24 33.40ZM427.89 33.40L430.19 28.35L432.49 33.40ZM428.15 33.40L430.45 28.35L432.75 33.40ZM428.40 33.40L430.70 28.35L433.00 33.40ZM428.65 33.40L430.95 28.35L433.25 33.40ZM428.90 33.40L431.20 28.35L433.50 33.40ZM429.14 33.40L431.44 28.35L433.74 33.40ZM429.39 33.40L431.69 28.35L433.99 33.40ZM429.63 33.40L431.93 28.35L434.23 33.40ZM429.88 33.40L432.18 28.35L434.48 33.40ZM430.12 33.40L432.42 28.35L434.72 33.40ZM430.35 33.40L432.65 28.35L434.95 33.40ZM430.59 33.40L432.89 28.35L435.19 33.40ZM430.83 33.40L433.13 28.35L435.43 33.40ZM431.06 33.40L433.36 28.35L435.66 33.40ZM431.29 33.40L433.59 28.35L435.89 33.40ZM431.53 33.40L433.83 28.35L436.13 33.40ZM431.76 33.40L434.06 28.35L436.36 33.40ZM431.98 33.40L434.28 28.35L436.58 33.40ZM432.21 33.40L434.51 28.35L436.81 33.40ZM432.44 33.40L434.74 28.35L437.04 33.40ZM432.66 33.40L434.96 28.35L437.26 33.40ZM432.89 33.40L435.19 28.35L437.49 33.40ZM433.11 33.40L435.41 28.35L437.71 33.40ZM433.33 33.40L435.63 28.35L437.93 33.40ZM433.55 33.40L435.85 28.35L438.15 33.40ZM433.76 33.40L436.06 28.35L438.36 33.40ZM433.98 33.40L436.28 28.35L438.58 33.40ZM434.20 33.40L436.50 28.35L438.80 33.40ZM434.41 33.40L436.71 28.35L439.01 33.40ZM434.62 33.40L436.92 28.35L439.22 33.40ZM434.84 33.40L437.14 28.35L439.44 33.40ZM435.05 33.40L437.35 28.35L439.65 33.40ZM435.26 33.40L437.56 28.35L439.86 33.40ZM435.46 33.40L437.76 28.35L440.06 33.40ZM435.67 33.40L437.97 28.35L440.27 33.40ZM435.88 33.40L438.18 28.35L440.48 33.40ZM436.08 33.40L438.38 28.35L440.68 33.40ZM436.29 33.40L438.59 28.35L440.89 33.40ZM436.49 33.40L438.79 28.35L441.09 33.40ZM436.69 33.40L438.99 28.35L441.29 33.40ZM436.89 33.40L439.19 28.35L441.49 33.40ZM437.09 33.40L439.39 28.35L441.69 33.40ZM437.29 33.40L439.59 28.35L441.89 33.40ZM437.49 33.40L439.79 28.35L442.09 33.40ZM437.68 33.40L439.98 28.35L442.28 33.40ZM437.88 33.40L440.18 28.35L442.48 33.40ZM438.07 33.40L440.37 28.35L442.67 33.40ZM438.26 33.40L440.56 28.35L442.86 33.40ZM438.46 33.40L440.76 28.35L443.06 33.40ZM438.65 33.40L440.95 28.35L443.25 33.40ZM438.84 33.40L441.14 28.35L443.44 33.40ZM439.03 33.40L441.33 28.35L443.63 33.40ZM439.22 33.40L441.52 28.35L443.82 33.40ZM439.40 33.40L441.70 28.35L444.00 33.40ZM439.59 33.40L441.89 28.35L444.19 33.40ZM439.77 33.40L442.07 28.35L444.37 33.40ZM439.96 33.40L442.26 28.35L444.56 33.40ZM440.14 33.40L442.44 28.35L444.74 33.40ZM440.33 33.40L442.63 28.35L444.93 33.40ZM440.51 33.40L442.81 28.35L445.11 33.40ZM440.69 33.40L442.99 28.35L445.29 33.40ZM440.87 33.40L443.17 28.35L445.47 33.40ZM441.05 33.40L443.35 28.35L445.65 33.40ZM441.23 33.40L443.53 28.35L445.83 33.40ZM441.40 33.40L443.70 28.35L446.00 33.40ZM441.58 33.40L443.88 28.35L446.18 33.40ZM441.76 33.40L444.06 28.35L446.36 33.40ZM441.93 33.40L444.23 28.35L446.53 33.40ZM442.11 33.40L444.41 28.35L446.71 33.40ZM442.28 33.40L444.58 28.35L446.88 33.40ZM442.45 33.40L444.75 28.35L447.05 33.40ZM442.63 33.40L444.93 28.35L447.23 33.40ZM442.80 33.40L445.10 28.35L447.40 33.40ZM442.97 33.40L445.27 28.35L447.57 33.40ZM443.14 33.40L445.44 28.35L447.74 33.40ZM443.31 33.40L445.61 28.35L447.91 33.40ZM443.47 33.40L445.77 28.35L448.07 33.40ZM443.64 33.40L445.94 28.35L448.24 33.40ZM443.81 33.40L446.11 28.35L448.41 33.40ZM443.97 33.40L446.27 28.35L448.57 33.40ZM444.14 33.40L446.44 28.35L448.74 33.40ZM444.30 33.40L446.60 28.35L448.90 33.40ZM444.47 33.40L446.77 28.35L449.07 33.40ZM444.63 33.40L446.93 28.35L449.23 33.40ZM444.79 33.40L447.09 28.35L449.39 33.40ZM444.95 33.40L447.25 28.35L449.55 33.40ZM445.11 33.40L447.41 28.35L449.71 33.40ZM445.27 33.40L447.57 28.35L449.87 33.40ZM445.43 33.40L447.73 28.35L450.03 33.40ZM445.59 33.40L447.89 28.35L450.19 33.40ZM445.75 33.40L448.05 28.35L450.35 33.40ZM445.91 33.40L448.21 28.35L450.51 33.40ZM446.06 33.40L448.36 28.35L450.66 33.40ZM446.22 33.40L448.52 28.35L450.82 33.40ZM446.38 33.40L448.68 28.35L450.98 33.40ZM446.53 33.40L448.83 28.35L451.13 33.40ZM446.69 33.40L448.99 28.35L451.29 33.40ZM446.84 33.40L449.14 28.35L451.44 33.40ZM446.99 33.40L449.29 28.35L451.59 33.40ZM447.14 33.40L449.44 28.35L451.74 33.40ZM447.30 33.40L449.60 28.35L451.90 33.40ZM447.45 33.40L449.75 28.35L452.05 33.40ZM447.60 33.40L449.90 28.35L452.20 33.40ZM447.75 33.40L450.05 28.35L452.35 33.40ZM447.90 33.40L450.20 28.35L452.50 33.40ZM448.05 33.40L450.35 28.35L452.65 33.40ZM448.19 33.40L450.49 28.35L452.79 33.40ZM448.34 33.40L450.64 28.35L452.94 33.40ZM448.49 33.40L450.79 28.35L453.09 33.40ZM448.63 33.40L450.93 28.35L453.23 33.40ZM448.78 33.40L451.08 28.35L453.38 33.40ZM448.93 33.40L451.23 28.35L453.53 33.40ZM449.07 33.40L451.37 28.35L453.67 33.40ZM449.21 33.40L451.51 28.35L453.81 33.40ZM449.36 33.40L451.66 28.35L453.96 33.40ZM449.50 33.40L451.80 28.35L454.10 33.40ZM449.64 33.40L451.94 28.35L454.24 33.40ZM449.79 33.40L452.09 28.35L454.39 33.40ZM449.93 33.40L452.23 28.35L454.53 33.40ZM450.07 33.40L452.37 28.35L454.67 33.40ZM450.21 33.40L452.51 28.35L454.81 33.40ZM450.35 33.40L452.65 28.35L454.95 33.40ZM450.49 33.40L452.79 28.35L455.09 33.40ZM450.63 33.40L452.93 28.35L455.23 33.40ZM450.76 33.40L453.06 28.35L455.36 33.40ZM450.90 33.40L453.20 28.35L455.50 33.40ZM451.04 33.40L453.34 28.35L455.64 33.40ZM451.18 33.40L453.48 28.35L455.78 33.40ZM451.31 33.40L453.61 28.35L455.91 33.40ZM451.45 33.40L453.75 28.35L456.05 33.40ZM451.58 33.40L453.88 28.35L456.18 33.40ZM451.72 33.40L454.02 28.35L456.32 33.40ZM451.85 33.40L454.15 28.35L456.45 33.40ZM451.99 33.40L454.29 28.35L456.59 33.40ZM452.12 33.40L454.42 28.35L456.72 33.40ZM452.25 33.40L454.55 28.35L456.85 33.40ZM452.39 33.40L454.69 28.35L456.99 33.40ZM452.52 33.40L454.82 28.35L457.12 33.40ZM452.65 33.40L454.95 28.35L457.25 33.40ZM452.78 33.40L455.08 28.35L457.38 33.40Z" fill="none" stroke="#a06200" stroke-width="0.78" stroke-linejoin="miter"/>
<path d="M120.70 43.20L123.70 36.75L126.70 43.20Z" fill="none" stroke="#a06200" stroke-width="0.9"/>
<path d="M120.70 59.30l6.00 6.00M120.70 65.30l6.00 -6.00" fill="none" stroke="#44991a" stroke-width="0.8"/>
<path d="M120.70 81.20l6.00 6.00M120.70 87.20l6.00 -6.00M120.70 84.20h6.00M123.70 81.20v6.00" fill="none" stroke="#0000ff" stroke-width="0.85"/>
<path d="M120.70 101.20h6.00v6.00h-6.00Z" fill="none" stroke="#ff0000" stroke-width="0.9"/>
<g font-family="'Liberation Serif', serif" fill="#000" stroke="#000" stroke-width="0.22" style="opacity:0.999" text-rendering="geometricPrecision">
<text x="132.32" y="45.30" font-size="15.12" textLength="9.29" lengthAdjust="spacingAndGlyphs" stroke-width="0.12">L</text>
<text x="141.80" y="45.46" font-size="13.93" textLength="7.90" lengthAdjust="spacingAndGlyphs" stroke-width="0.12">o</text>
<text x="149.83" y="45.87" font-size="13.58" textLength="7.76" lengthAdjust="spacingAndGlyphs" stroke-width="0.12">g</text>
<text x="159.00" y="44.83" font-size="16.76" textLength="5.32" lengthAdjust="spacingAndGlyphs" stroke-width="0.12">(</text>
<text x="165.47" y="45.50" font-size="15.42" textLength="10.72" lengthAdjust="spacingAndGlyphs" stroke-width="0.12">N</text>
<text x="182.07" y="44.83" font-size="16.76" textLength="5.45" lengthAdjust="spacingAndGlyphs" stroke-width="0.12">)</text>
<text x="188.23" y="45.55" font-size="15.2" textLength="11.03" lengthAdjust="spacingAndGlyphs" stroke-width="0.12">=</text>
<text x="199.82" y="45.64" font-size="16.82" textLength="9.13" lengthAdjust="spacingAndGlyphs" stroke-width="0.12">6</text>
<text x="176.80" y="47.58" font-size="7.16" textLength="3.03" lengthAdjust="spacingAndGlyphs" stroke-width="0.35" font-weight="bold">p</text>
<text x="132.32" y="65.80" font-size="15.12" textLength="9.29" lengthAdjust="spacingAndGlyphs" stroke-width="0.12">L</text>
<text x="141.80" y="65.96" font-size="13.93" textLength="7.90" lengthAdjust="spacingAndGlyphs" stroke-width="0.12">o</text>
<text x="149.83" y="66.37" font-size="13.58" textLength="7.76" lengthAdjust="spacingAndGlyphs" stroke-width="0.12">g</text>
<text x="159.00" y="65.33" font-size="16.76" textLength="5.32" lengthAdjust="spacingAndGlyphs" stroke-width="0.12">(</text>
<text x="165.47" y="66.00" font-size="15.42" textLength="10.72" lengthAdjust="spacingAndGlyphs" stroke-width="0.12">N</text>
<text x="182.07" y="65.33" font-size="16.76" textLength="5.45" lengthAdjust="spacingAndGlyphs" stroke-width="0.12">)</text>
<text x="188.23" y="66.05" font-size="15.2" textLength="11.03" lengthAdjust="spacingAndGlyphs" stroke-width="0.12">=</text>
<text x="199.33" y="66.30" font-size="17.26" textLength="9.62" lengthAdjust="spacingAndGlyphs" stroke-width="0.12">7</text>
<text x="176.80" y="68.08" font-size="7.16" textLength="3.03" lengthAdjust="spacingAndGlyphs" stroke-width="0.35" font-weight="bold">p</text>
<text x="132.32" y="88.40" font-size="15.12" textLength="9.29" lengthAdjust="spacingAndGlyphs" stroke-width="0.12">L</text>
<text x="141.80" y="88.56" font-size="13.93" textLength="7.90" lengthAdjust="spacingAndGlyphs" stroke-width="0.12">o</text>
<text x="149.83" y="88.97" font-size="13.58" textLength="7.76" lengthAdjust="spacingAndGlyphs" stroke-width="0.12">g</text>
<text x="159.00" y="87.93" font-size="16.76" textLength="5.32" lengthAdjust="spacingAndGlyphs" stroke-width="0.12">(</text>
<text x="165.47" y="88.60" font-size="15.42" textLength="10.72" lengthAdjust="spacingAndGlyphs" stroke-width="0.12">N</text>
<text x="182.07" y="87.93" font-size="16.76" textLength="5.45" lengthAdjust="spacingAndGlyphs" stroke-width="0.12">)</text>
<text x="188.23" y="88.65" font-size="15.2" textLength="11.03" lengthAdjust="spacingAndGlyphs" stroke-width="0.12">=</text>
<text x="199.90" y="88.74" font-size="16.75" textLength="9.20" lengthAdjust="spacingAndGlyphs" stroke-width="0.12">8</text>
<text x="176.80" y="90.68" font-size="7.16" textLength="3.03" lengthAdjust="spacingAndGlyphs" stroke-width="0.35" font-weight="bold">p</text>
<text x="132.32" y="108.70" font-size="15.12" textLength="9.29" lengthAdjust="spacingAndGlyphs" stroke-width="0.12">L</text>
<text x="141.80" y="108.86" font-size="13.93" textLength="7.90" lengthAdjust="spacingAndGlyphs" stroke-width="0.12">o</text>
<text x="149.83" y="109.27" font-size="13.58" textLength="7.76" lengthAdjust="spacingAndGlyphs" stroke-width="0.12">g</text>
<text x="159.00" y="108.23" font-size="16.76" textLength="5.32" lengthAdjust="spacingAndGlyphs" stroke-width="0.12">(</text>
<text x="165.47" y="108.90" font-size="15.42" textLength="10.72" lengthAdjust="spacingAndGlyphs" stroke-width="0.12">N</text>
<text x="182.07" y="108.23" font-size="16.76" textLength="5.45" lengthAdjust="spacingAndGlyphs" stroke-width="0.12">)</text>
<text x="188.23" y="108.95" font-size="15.2" textLength="11.03" lengthAdjust="spacingAndGlyphs" stroke-width="0.12">=</text>
<text x="200.01" y="109.04" font-size="16.82" textLength="9.14" lengthAdjust="spacingAndGlyphs" stroke-width="0.12">9</text>
<text x="176.80" y="110.98" font-size="7.16" textLength="3.03" lengthAdjust="spacingAndGlyphs" stroke-width="0.35" font-weight="bold">p</text>
<text x="53.80" y="36.00" font-size="13.63" textLength="6.25" lengthAdjust="spacingAndGlyphs" stroke-width="0.15">1</text>
<text x="61.09" y="35.97" font-size="13.49" textLength="8.02" lengthAdjust="spacingAndGlyphs" stroke-width="0.15">0</text>
<text x="70.23" y="31.02" font-size="8.3" textLength="4.84" lengthAdjust="spacingAndGlyphs" stroke-width="0.3">0</text>
<text x="46.73" y="96.10" font-size="14.24" textLength="5.54" lengthAdjust="spacingAndGlyphs" stroke-width="0.15">1</text>
<text x="54.72" y="96.06" font-size="14.08" textLength="7.67" lengthAdjust="spacingAndGlyphs" stroke-width="0.15">0</text>
<text x="63.20" y="91.95" font-size="9.6" textLength="6.10" lengthAdjust="spacingAndGlyphs" stroke-width="0.35">−</text>
<text x="69.18" y="91.80" font-size="9.09" textLength="6.39" lengthAdjust="spacingAndGlyphs" stroke-width="0.3">1</text>
<text x="46.73" y="156.10" font-size="14.24" textLength="5.54" lengthAdjust="spacingAndGlyphs" stroke-width="0.15">1</text>
<text x="54.72" y="156.06" font-size="14.08" textLength="7.67" lengthAdjust="spacingAndGlyphs" stroke-width="0.15">0</text>
<text x="63.20" y="151.95" font-size="9.6" textLength="6.10" lengthAdjust="spacingAndGlyphs" stroke-width="0.35">−</text>
<text x="69.81" y="151.80" font-size="9.06" textLength="5.61" lengthAdjust="spacingAndGlyphs" stroke-width="0.3">2</text>
<text x="46.73" y="216.10" font-size="14.24" textLength="5.54" lengthAdjust="spacingAndGlyphs" stroke-width="0.15">1</text>
<text x="54.72" y="216.06" font-size="14.08" textLength="7.67" lengthAdjust="spacingAndGlyphs" stroke-width="0.15">0</text>
<text x="63.20" y="211.95" font-size="9.6" textLength="6.10" lengthAdjust="spacingAndGlyphs" stroke-width="0.35">−</text>
<text x="69.78" y="211.71" font-size="8.93" textLength="5.45" lengthAdjust="spacingAndGlyphs" stroke-width="0.3">3</text>
<text x="46.73" y="276.10" font-size="14.24" textLength="5.54" lengthAdjust="spacingAndGlyphs" stroke-width="0.15">1</text>
<text x="54.72" y="276.06" font-size="14.08" textLength="7.67" lengthAdjust="spacingAndGlyphs" stroke-width="0.15">0</text>
<text x="63.20" y="271.95" font-size="9.6" textLength="6.10" lengthAdjust="spacingAndGlyphs" stroke-width="0.35">−</text>
<text x="70.11" y="271.80" font-size="9.12" textLength="4.84" lengthAdjust="spacingAndGlyphs" stroke-width="0.3">4</text>
<text x="46.73" y="331.70" font-size="14.24" textLength="5.54" lengthAdjust="spacingAndGlyphs" stroke-width="0.15">1</text>
<text x="54.72" y="331.66" font-size="14.08" textLength="7.67" lengthAdjust="spacingAndGlyphs" stroke-width="0.15">0</text>
<text x="63.20" y="327.55" font-size="9.6" textLength="6.10" lengthAdjust="spacingAndGlyphs" stroke-width="0.35">−</text>
<text x="69.65" y="327.31" font-size="9.03" textLength="5.59" lengthAdjust="spacingAndGlyphs" stroke-width="0.3">5</text>
<text x="76.98" y="350.40" font-size="14.39" textLength="5.25" lengthAdjust="spacingAndGlyphs" stroke-width="0.15">1</text>
<text x="245.20" y="350.40" font-size="14.69" textLength="5.11" lengthAdjust="spacingAndGlyphs" stroke-width="0.15">1</text>
<text x="252.62" y="350.46" font-size="14.67" textLength="7.67" lengthAdjust="spacingAndGlyphs" stroke-width="0.15">0</text>
<text x="413.20" y="350.40" font-size="14.69" textLength="5.11" lengthAdjust="spacingAndGlyphs" stroke-width="0.15">1</text>
<text x="421.05" y="350.46" font-size="14.67" textLength="7.20" lengthAdjust="spacingAndGlyphs" stroke-width="0.15">0</text>
<text x="429.43" y="350.46" font-size="14.67" textLength="7.43" lengthAdjust="spacingAndGlyphs" stroke-width="0.15">0</text>
<text x="235.92" y="367.20" font-size="17.5" textLength="9.11" lengthAdjust="spacingAndGlyphs" stroke-width="0.1">c</text>
<text x="245.88" y="367.20" font-size="17.5" textLength="9.35" lengthAdjust="spacingAndGlyphs" stroke-width="0.1">e</text>
<text x="256.70" y="367.20" font-size="17.5" textLength="5.61" lengthAdjust="spacingAndGlyphs" stroke-width="0.1">l</text>
<text x="263.87" y="367.20" font-size="17.5" textLength="5.96" lengthAdjust="spacingAndGlyphs" stroke-width="0.1">l</text>
<text x="280.30" y="370.40" font-size="25" textLength="9.80" lengthAdjust="spacingAndGlyphs" font-style="italic" stroke-width="0">#</text>
<text x="305.45" y="302.40" font-size="15.5" textLength="7.10" lengthAdjust="spacingAndGlyphs" stroke-width="0.1">1</text>
<text x="313.79" y="302.40" font-size="15.5" textLength="8.29" lengthAdjust="spacingAndGlyphs" stroke-width="0.1">c</text>
<text x="322.96" y="302.40" font-size="15.5" textLength="8.39" lengthAdjust="spacingAndGlyphs" stroke-width="0.1">e</text>
<text x="332.52" y="302.40" font-size="15.5" textLength="5.26" lengthAdjust="spacingAndGlyphs" stroke-width="0.1">l</text>
<text x="339.61" y="302.40" font-size="15.5" textLength="5.37" lengthAdjust="spacingAndGlyphs" stroke-width="0.1">l</text>
<text x="353.69" y="302.40" font-size="15.5" textLength="11.39" lengthAdjust="spacingAndGlyphs" stroke-width="0.1">=</text>
<text x="374.67" y="302.40" font-size="15.5" textLength="8.26" lengthAdjust="spacingAndGlyphs" stroke-width="0.1">0</text>
<text x="384.16" y="302.40" font-size="15.5" textLength="3.17" lengthAdjust="spacingAndGlyphs" stroke-width="0.1">.</text>
<text x="388.15" y="302.40" font-size="15.5" textLength="9.06" lengthAdjust="spacingAndGlyphs" stroke-width="0.1">5</text>
<text x="398.47" y="302.40" font-size="15.5" textLength="9.68" lengthAdjust="spacingAndGlyphs" stroke-width="0.1">5</text>
<text x="418.90" y="302.40" font-size="15.5" textLength="9.33" lengthAdjust="spacingAndGlyphs" stroke-width="0.1">p</text>
<text x="428.99" y="302.40" font-size="15.5" textLength="8.29" lengthAdjust="spacingAndGlyphs" stroke-width="0.1">c</text>
<g transform="rotate(-90)">
<text x="-192.10" y="27.60" font-size="18.8" textLength="9.60" lengthAdjust="spacingAndGlyphs">x</text>
<text x="-181.40" y="30.80" font-size="15" textLength="8.40" lengthAdjust="spacingAndGlyphs">H</text>
</g>
<ellipse cx="22.45" cy="170.6" rx="1.9" ry="1.0" fill="none" stroke="#000" stroke-width="1.0"/>
</g>
</svg>
</body></html>
